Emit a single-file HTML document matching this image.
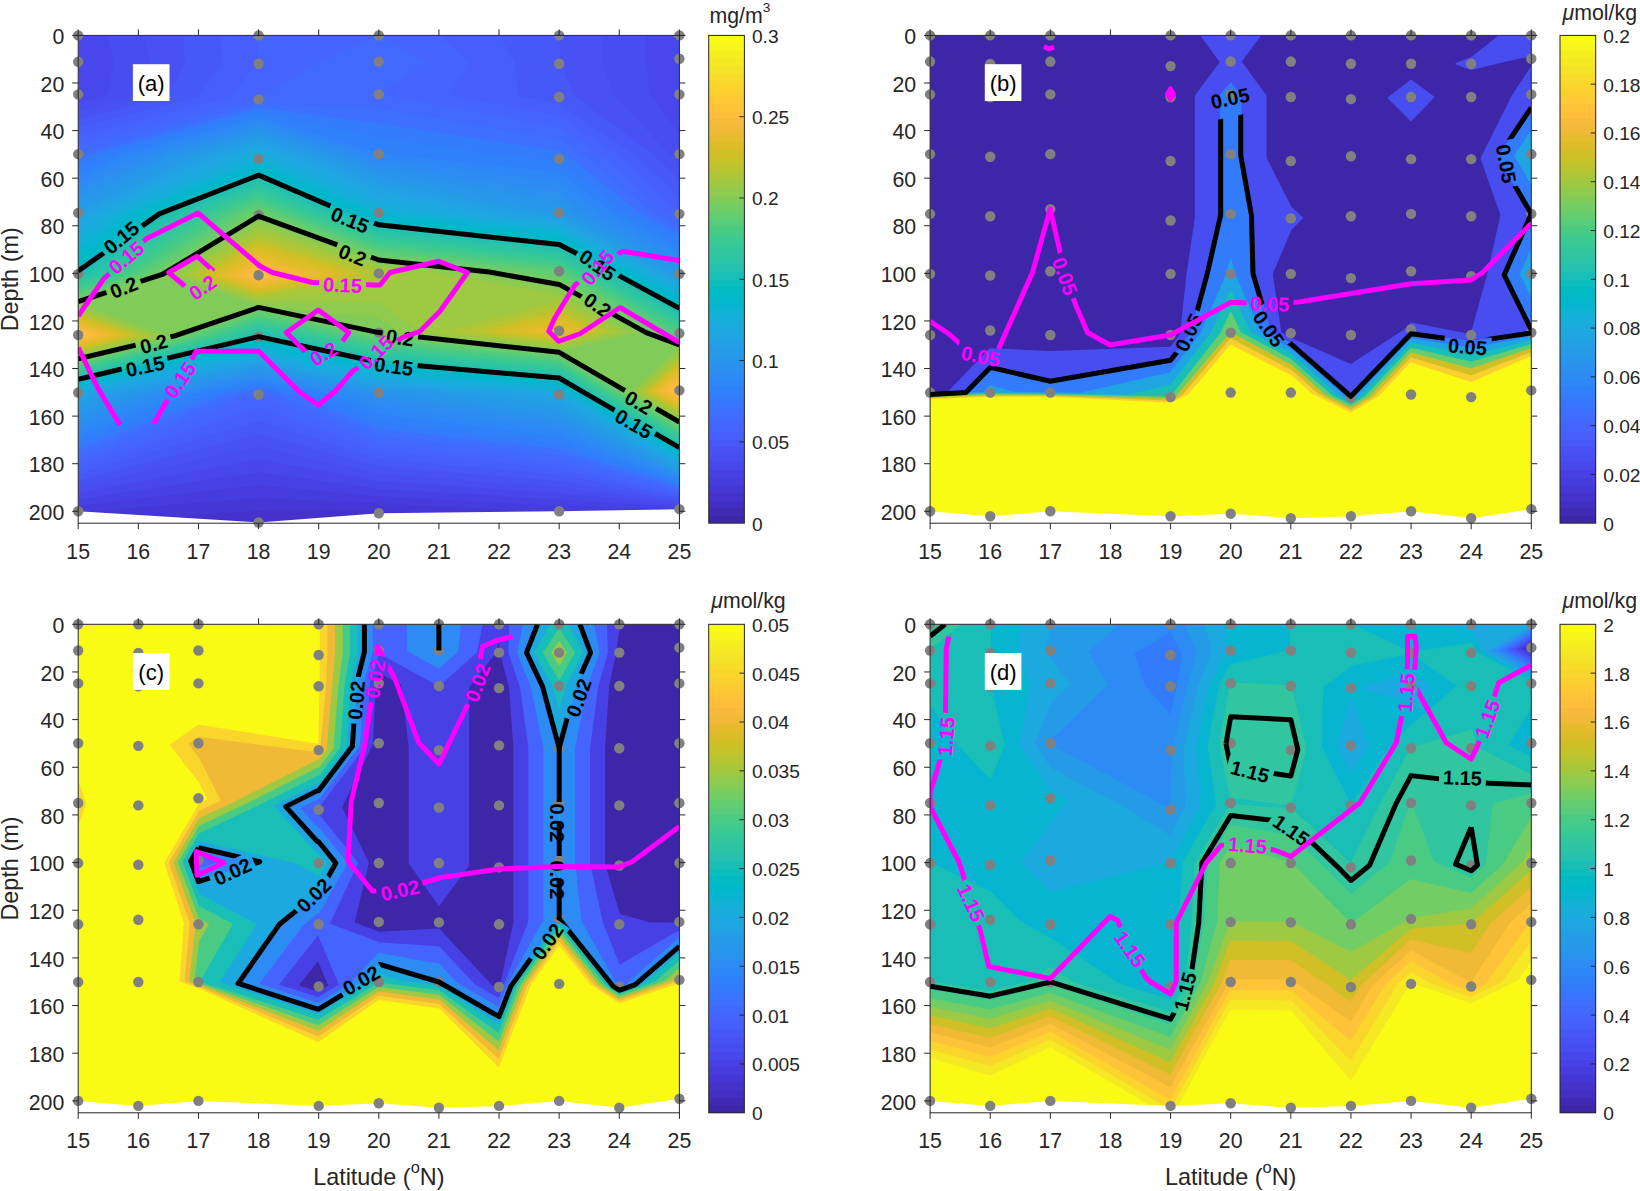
<!DOCTYPE html>
<html><head><meta charset="utf-8"><title>Figure</title><style>html,body{margin:0;padding:0;background:#fff}svg{display:block}</style></head><body>
<svg width="1640" height="1191" viewBox="0 0 1640 1191" font-family="'Liberation Sans', Arial, sans-serif">
<rect width="1640" height="1191" fill="#fff"/>
<g id="panel-a">
<clipPath id="clipa"><rect x="78.2" y="35.4" width="601.1999999999999" height="487.80000000000007"/></clipPath>
<g clip-path="url(#clipa)" shape-rendering="geometricPrecision">
<mask id="ola" maskUnits="userSpaceOnUse" x="0" y="0" width="1640" height="1191"><path d="M78.2 35.4L258.56 35.4L378.8 35.4L559.16 35.4L679.4 35.4L679.4 58.72L679.4 94.41L679.4 154.14L679.4 213.86L679.4 273.83L679.4 333.31L679.4 390.42L679.4 509.16L559.16 511.3L378.8 513.21L258.56 522.49L78.2 511.3L78.2 392.56L78.2 334.98L78.2 273.83L78.2 212.91L78.2 154.14L78.2 94.41L78.2 61.81Z" fill="#fff"/></mask>
<g mask="url(#ola)">
<path d="M78.2 35.4L258.56 35.4L378.8 35.4L559.16 35.4L679.4 35.4L679.4 58.72L679.4 94.41L679.4 154.14L679.4 213.86L679.4 273.83L679.4 333.31L679.4 390.42L679.4 509.16L559.16 511.3L378.8 513.21L258.56 522.49L78.2 511.3L78.2 392.56L78.2 334.98L78.2 273.83L78.2 212.91L78.2 154.14L78.2 94.41L78.2 61.81Z" fill="#3e26a8" stroke="#3e26a8" stroke-width="2"/>
<path d="M78.2 35.4L258.56 35.4L378.8 35.4L559.16 35.4L679.4 35.4L679.4 58.72L679.4 94.41L679.4 154.14L679.4 213.86L679.4 273.83L679.4 333.31L679.4 390.42L679.4 509.16L559.16 511.3L378.8 513.21L258.56 522.49L78.2 511.3L78.2 392.56L78.2 334.98L78.2 273.83L78.2 212.91L78.2 154.14L78.2 94.41L78.2 61.81Z" fill="#402ab4" stroke="#402ab4" stroke-width="1.6" stroke-linejoin="round" fill-rule="evenodd"/>
<path d="M78.2 35.4L258.56 35.4L378.8 35.4L559.16 35.4L679.4 35.4L679.4 58.72L679.4 94.41L679.4 154.14L679.4 213.86L679.4 273.83L679.4 333.31L679.4 390.42L679.4 509.16L559.16 511.3L378.8 513.21L258.56 522.49L78.2 511.3L78.2 392.56L78.2 334.98L78.2 273.83L78.2 212.91L78.2 154.14L78.2 94.41L78.2 61.81Z" fill="#422ec0" stroke="#422ec0" stroke-width="1.6" stroke-linejoin="round" fill-rule="evenodd"/>
<path d="M78.2 35.4L258.56 35.4L378.8 35.4L559.16 35.4L679.4 35.4L679.4 58.72L679.4 94.41L679.4 154.14L679.4 213.86L679.4 273.83L679.4 333.31L679.4 390.42L679.4 509.16L559.16 511.3L378.8 513.21L258.56 522.49L78.2 511.3L78.2 392.56L78.2 334.98L78.2 273.83L78.2 212.91L78.2 154.14L78.2 94.41L78.2 61.81Z" fill="#4432cb" stroke="#4432cb" stroke-width="1.6" stroke-linejoin="round" fill-rule="evenodd"/>
<path d="M78.2 35.4L258.56 35.4L378.8 35.4L559.16 35.4L679.4 35.4L679.4 58.72L679.4 94.41L679.4 154.14L679.4 213.86L679.4 273.83L679.4 333.31L679.4 390.42L679.4 509.16L559.16 511.3L430.33 512.66L378.8 510.23L258.56 509.68L168.38 516.89L78.2 511.3L78.2 392.56L78.2 334.98L78.2 273.83L78.2 212.91L78.2 154.14L78.2 94.41L78.2 61.81Z" fill="#4537d5" stroke="#4537d5" stroke-width="1.6" stroke-linejoin="round" fill-rule="evenodd"/>
<path d="M78.2 35.4L258.56 35.4L378.8 35.4L559.16 35.4L679.4 35.4L679.4 58.72L679.4 94.41L679.4 154.14L679.4 213.86L679.4 273.83L679.4 333.31L679.4 390.42L679.4 509.16L559.16 511.3L559.16 511.3L378.8 502.78L258.56 496.88L78.2 511.3L78.2 511.3L78.2 392.56L78.2 334.98L78.2 273.83L78.2 212.91L78.2 154.14L78.2 94.41L78.2 61.81Z" fill="#463cde" stroke="#463cde" stroke-width="1.6" stroke-linejoin="round" fill-rule="evenodd"/>
<path d="M78.2 35.4L258.56 35.4L378.8 35.4L559.16 35.4L679.4 35.4L679.4 58.72L679.4 94.41L679.4 154.14L679.4 213.86L679.4 273.83L679.4 333.31L679.4 390.42L679.4 508.65L559.16 505.02L378.8 495.33L258.56 484.08L78.2 504.92L78.2 392.56L78.2 334.98L78.2 273.83L78.2 212.91L78.2 154.14L78.2 94.41L78.2 61.81Z" fill="#4741e5" stroke="#4741e5" stroke-width="1.6" stroke-linejoin="round" fill-rule="evenodd"/>
<path d="M78.2 35.4L258.56 35.4L378.8 35.4L559.16 35.4L679.4 35.4L679.4 58.72L679.4 94.41L679.4 154.14L679.4 213.86L679.4 273.83L679.4 333.31L679.4 390.42L679.4 506.1L559.16 498.74L378.8 487.89L258.56 471.28L78.2 498.53L78.2 392.56L78.2 334.98L78.2 273.83L78.2 212.91L78.2 154.14L78.2 94.41L78.2 61.81Z" fill="#4747eb" stroke="#4747eb" stroke-width="1.6" stroke-linejoin="round" fill-rule="evenodd"/>
<path d="M108.26 35.4L258.56 35.4L378.8 35.4L559.16 35.4L645.05 35.4L645.05 60.15L649.34 95.07L679.4 134.23L679.4 154.14L679.4 213.86L679.4 273.83L679.4 333.31L679.4 390.42L679.4 503.56L559.16 492.46L378.8 480.44L258.56 458.48L78.2 492.15L78.2 392.56L78.2 334.98L78.2 273.83L78.2 212.91L78.2 154.14L78.2 102.94L108.26 95.24L114.27 62.19Z" fill="#484df0" stroke="#484df0" stroke-width="1.6" stroke-linejoin="round" fill-rule="evenodd"/>
<path d="M145.83 35.4L258.56 35.4L378.8 35.4L559.16 35.4L602.1 35.4L602.1 61.93L611.77 95.88L669.38 154.53L679.4 164.09L679.4 213.86L679.4 273.83L679.4 333.31L679.4 390.42L679.4 501.01L559.16 486.18L378.8 472.99L258.56 445.68L78.2 485.77L78.2 392.56L78.2 334.98L78.2 273.83L78.2 212.91L78.2 154.14L78.2 111.48L138.32 96.08L150.34 62.57Z" fill="#4852f4" stroke="#4852f4" stroke-width="1.6" stroke-linejoin="round" fill-rule="evenodd"/>
<path d="M183.41 35.4L258.56 35.4L378.8 35.4L559.16 35.4L559.16 35.4L559.16 63.72L574.19 96.7L652.68 155.2L679.4 180.68L679.4 213.86L679.4 273.83L679.4 333.31L679.4 390.42L679.4 498.46L559.16 479.9L378.8 465.55L258.56 432.87L78.2 479.38L78.2 392.56L78.2 334.98L78.2 273.83L78.2 212.91L78.2 154.14L78.2 120.01L168.38 96.91L186.42 62.95Z" fill="#4758f8" stroke="#4758f8" stroke-width="1.6" stroke-linejoin="round" fill-rule="evenodd"/>
<path d="M220.98 35.4L258.56 35.4L378.8 35.4L499.04 35.4L514.07 63.18L517.54 96.43L559.16 104.17L635.98 155.86L679.4 197.27L679.4 213.86L679.4 273.83L679.4 333.31L679.4 390.42L679.4 495.91L559.16 473.61L378.8 458.1L258.56 420.07L78.2 473L78.2 392.56L78.2 334.98L78.2 273.83L78.2 212.91L78.2 154.14L78.2 128.54L198.44 97.74L222.49 63.34Z" fill="#465efb" stroke="#465efb" stroke-width="1.6" stroke-linejoin="round" fill-rule="evenodd"/>
<path d="M258.56 35.4L258.56 35.4L378.8 35.4L438.92 35.4L468.98 62.65L448.17 95.42L559.16 116.07L619.28 156.52L679.4 213.86L679.4 213.86L679.4 273.83L679.4 333.31L679.4 390.42L679.4 493.36L559.16 467.33L378.8 450.65L258.56 407.27L78.2 466.62L78.2 392.56L78.2 334.98L78.2 273.83L78.2 212.91L78.2 154.14L78.2 137.07L228.5 98.58L258.56 63.72Z" fill="#4563fd" stroke="#4563fd" stroke-width="1.6" stroke-linejoin="round" fill-rule="evenodd"/>
<path d="M378.8 35.4L378.8 35.4L378.8 35.4L423.89 62.11L378.8 94.41L559.16 127.96L602.58 157.18L666.04 213.76L679.4 220.84L679.4 273.83L679.4 333.31L679.4 390.42L679.4 490.82L559.16 461.05L378.8 443.2L258.56 394.47L78.2 460.23L78.2 392.56L78.2 334.98L78.2 273.83L78.2 212.91L78.2 154.14L78.2 145.61L258.56 99.41L258.56 99.41L318.68 62.65Z" fill="#4269fe" stroke="#4269fe" stroke-width="1.6" stroke-linejoin="round" fill-rule="evenodd"/>
<path d="M378.8 61.57L378.8 61.57L378.8 61.57L378.8 61.57ZM78.2 154.14L78.2 154.14L258.56 103.98L378.8 109.34L559.16 139.86L585.88 157.84L652.68 213.65L679.4 227.81L679.4 273.83L679.4 333.31L679.4 390.42L679.4 488.27L559.16 454.77L378.8 435.76L276.24 394.19L258.56 391.07L241.54 394.29L78.2 453.85L78.2 392.56L78.2 334.98L78.2 273.83L78.2 212.91Z" fill="#3e6fff" stroke="#3e6fff" stroke-width="1.6" stroke-linejoin="round" fill-rule="evenodd"/>
<path d="M93.23 154.53L258.56 108.56L378.8 124.27L559.16 151.76L569.18 158.5L639.32 213.55L679.4 234.78L679.4 273.83L679.4 333.31L679.4 390.42L679.4 485.72L559.16 448.49L378.8 428.31L293.92 393.91L258.56 387.67L224.53 394.11L78.2 447.46L78.2 392.56L78.2 334.98L78.2 273.83L78.2 212.91L78.2 161.48Z" fill="#327cfc" stroke="#327cfc" stroke-width="1.6" stroke-linejoin="round" fill-rule="evenodd"/>
<path d="M108.26 154.93L258.56 113.14L378.8 139.21L507.63 157.54L559.16 162.9L625.96 213.44L679.4 241.75L679.4 273.83L679.4 333.31L679.4 390.42L679.4 483.17L559.16 442.21L378.8 420.86L311.61 393.63L258.56 384.26L207.51 393.93L78.2 441.08L78.2 392.56L78.2 334.98L78.2 273.83L78.2 212.91L78.2 168.83Z" fill="#2f81fa" stroke="#2f81fa" stroke-width="1.6" stroke-linejoin="round" fill-rule="evenodd"/>
<path d="M123.29 155.33L258.56 117.71L378.8 154.14L378.8 154.14L559.16 172.9L612.6 213.33L679.4 248.73L679.4 273.83L679.4 333.31L679.4 390.42L679.4 480.62L559.16 435.93L378.8 413.42L329.29 393.35L258.56 380.86L190.5 393.75L78.2 434.7L78.2 392.56L78.2 334.98L78.2 273.83L78.2 212.91L78.2 176.18Z" fill="#2e87f7" stroke="#2e87f7" stroke-width="1.6" stroke-linejoin="round" fill-rule="evenodd"/>
<path d="M138.32 155.72L258.56 122.29L365.44 154.67L378.8 160.26L559.16 182.9L599.24 213.23L679.4 255.7L679.4 273.83L679.4 333.31L679.4 390.42L679.4 478.08L559.16 429.64L378.8 405.97L346.97 393.07L258.56 377.46L173.48 393.57L78.2 428.31L78.2 392.56L78.2 334.98L78.2 273.83L78.2 212.91L78.2 183.52Z" fill="#2d8cf3" stroke="#2d8cf3" stroke-width="1.6" stroke-linejoin="round" fill-rule="evenodd"/>
<path d="M153.35 156.12L258.56 126.86L352.08 155.2L378.8 166.38L559.16 192.91L585.88 213.12L679.4 262.67L679.4 273.83L679.4 333.31L679.4 390.42L679.4 475.53L559.16 423.36L378.8 398.52L364.65 392.79L258.56 374.06L156.47 393.39L78.2 421.93L78.2 392.56L78.2 334.98L78.2 273.83L78.2 212.91L78.2 190.87Z" fill="#2b91ef" stroke="#2b91ef" stroke-width="1.6" stroke-linejoin="round" fill-rule="evenodd"/>
<path d="M168.38 156.52L258.56 131.44L338.72 155.72L378.8 172.5L559.16 202.91L572.52 213.02L679.4 269.64L679.4 273.83L679.4 333.31L679.4 390.42L679.4 472.98L559.16 417.08L388.29 392.66L378.8 391.97L258.56 370.66L139.45 393.21L78.2 415.55L78.2 392.56L78.2 334.98L78.2 273.83L78.2 212.91L78.2 198.22Z" fill="#2797eb" stroke="#2797eb" stroke-width="1.6" stroke-linejoin="round" fill-rule="evenodd"/>
<path d="M183.41 156.91L258.56 136.02L325.36 156.25L378.8 178.63L559.16 212.91L559.16 212.91L676.57 273.77L679.4 275.3L679.4 333.31L679.4 390.42L679.4 470.43L559.16 410.8L435.76 393.17L378.8 389L258.56 367.26L122.44 393.03L78.2 409.16L78.2 392.56L78.2 334.98L78.2 273.83L78.2 212.91L78.2 205.56Z" fill="#259be8" stroke="#259be8" stroke-width="1.6" stroke-linejoin="round" fill-rule="evenodd"/>
<path d="M198.44 157.31L258.56 140.59L312 156.78L378.8 184.75L526.95 212.91L559.16 216.42L669.5 273.61L679.4 278.97L679.4 333.31L679.4 390.42L679.4 467.88L559.16 404.52L483.22 393.67L378.8 386.03L258.56 363.86L105.42 392.85L78.2 402.78L78.2 392.56L78.2 334.98L78.2 273.83L78.2 212.91L78.2 212.91Z" fill="#23a0e5" stroke="#23a0e5" stroke-width="1.6" stroke-linejoin="round" fill-rule="evenodd"/>
<path d="M213.47 157.71L258.56 145.17L298.64 157.31L378.8 190.87L494.75 212.91L559.16 219.94L662.42 273.46L679.4 282.64L679.4 333.31L679.4 390.42L679.4 465.33L559.16 398.24L530.68 394.17L378.8 383.07L258.56 360.46L88.41 392.67L78.2 396.4L78.2 392.56L78.2 334.98L78.2 273.83L78.2 220.16L88.33 213.03Z" fill="#20a5e3" stroke="#20a5e3" stroke-width="1.6" stroke-linejoin="round" fill-rule="evenodd"/>
<path d="M228.5 158.1L258.56 149.74L285.28 157.84L378.8 196.99L462.54 212.91L559.16 223.45L655.35 273.3L679.4 286.31L679.4 333.31L679.4 390.42L679.4 462.79L560.83 394.41L559.16 393.44L378.8 380.1L258.56 357.05L78.2 391.74L78.2 334.98L78.2 273.83L78.2 227.42L98.47 213.15Z" fill="#1ca9df" stroke="#1ca9df" stroke-width="1.6" stroke-linejoin="round" fill-rule="evenodd"/>
<path d="M243.53 158.5L258.56 154.32L271.92 158.37L378.8 203.12L430.33 212.91L559.16 226.96L648.28 273.15L679.4 289.98L679.4 333.31L679.4 390.42L679.4 460.24L565 394.27L559.16 390.87L378.8 377.13L258.56 353.65L78.2 389.68L78.2 334.98L78.2 273.83L78.2 234.67L108.6 213.27Z" fill="#18addb" stroke="#18addb" stroke-width="1.6" stroke-linejoin="round" fill-rule="evenodd"/>
<path d="M258.56 158.9L258.56 158.9L258.56 158.9L378.8 209.24L398.12 212.91L559.16 230.47L641.21 273L679.4 293.66L679.4 333.31L679.4 390.42L679.4 457.69L569.18 394.13L559.16 388.3L378.8 374.16L258.56 350.25L78.2 387.61L78.2 334.98L78.2 273.83L78.2 241.92L118.73 213.39Z" fill="#12b1d6" stroke="#12b1d6" stroke-width="1.6" stroke-linejoin="round" fill-rule="evenodd"/>
<path d="M128.86 213.51L258.56 162.97L375.16 212.98L378.8 214.32L559.16 233.98L634.13 272.84L679.4 297.33L679.4 333.31L679.4 390.42L679.4 455.14L573.35 393.99L559.16 385.73L378.8 371.19L258.56 346.85L78.2 385.55L78.2 334.98L78.2 273.83L78.2 249.17Z" fill="#08b5d0" stroke="#08b5d0" stroke-width="1.6" stroke-linejoin="round" fill-rule="evenodd"/>
<path d="M139 213.63L258.56 167.04L366.05 213.14L378.8 217.83L559.16 237.5L627.06 272.69L679.4 301L679.4 333.31L679.4 390.42L679.4 452.59L577.53 393.85L559.16 383.15L378.8 368.22L258.56 343.45L78.2 383.48L78.2 334.98L78.2 273.83L78.2 256.42Z" fill="#01b8ca" stroke="#01b8ca" stroke-width="1.6" stroke-linejoin="round" fill-rule="evenodd"/>
<path d="M149.13 213.75L258.56 171.1L356.94 213.3L378.8 221.35L559.16 241.01L619.99 272.53L679.4 304.67L679.4 333.31L679.4 390.42L679.4 450.05L581.7 393.71L559.16 380.58L378.8 365.25L258.56 340.05L78.2 381.42L78.2 334.98L78.2 273.83L78.2 263.67Z" fill="#02bac3" stroke="#02bac3" stroke-width="1.6" stroke-linejoin="round" fill-rule="evenodd"/>
<path d="M159.26 213.87L258.56 175.17L347.83 213.46L378.8 224.86L559.16 244.52L612.91 272.38L679.4 308.34L679.4 333.31L679.4 390.42L679.4 447.5L585.88 393.57L559.16 378.01L378.8 362.29L258.56 336.65L78.2 379.36L78.2 334.98L78.2 273.83L78.2 270.93Z" fill="#19bfb6" stroke="#19bfb6" stroke-width="1.6" stroke-linejoin="round" fill-rule="evenodd"/>
<path d="M169.39 213.99L258.56 179.24L338.72 213.63L378.8 228.37L559.16 248.03L605.84 272.23L679.4 312.02L679.4 333.31L679.4 390.42L679.4 444.95L590.05 393.43L559.16 375.44L378.8 359.32L270.58 336.24L258.56 333.72L250.17 336.57L78.2 377.29L78.2 334.98L78.2 275.57L83.45 273.87Z" fill="#24c1ae" stroke="#24c1ae" stroke-width="1.6" stroke-linejoin="round" fill-rule="evenodd"/>
<path d="M179.53 214.11L258.56 183.31L329.61 213.79L378.8 231.89L559.16 251.54L598.77 272.07L679.4 315.69L679.4 333.31L679.4 390.42L679.4 442.4L594.23 393.29L559.16 372.87L378.8 356.35L282.61 335.84L258.56 330.8L241.78 336.49L78.2 375.23L78.2 334.98L78.2 278.46L92.21 273.94Z" fill="#2cc4a7" stroke="#2cc4a7" stroke-width="1.6" stroke-linejoin="round" fill-rule="evenodd"/>
<path d="M189.66 214.24L258.56 187.38L320.5 213.95L378.8 235.4L559.16 255.05L591.7 271.92L679.4 319.36L679.4 333.31L679.4 390.42L679.4 439.85L598.4 393.15L559.16 370.3L378.8 353.38L294.63 335.43L258.56 327.88L233.39 336.41L78.2 373.16L78.2 334.98L78.2 281.36L100.96 274.01Z" fill="#31c69f" stroke="#31c69f" stroke-width="1.6" stroke-linejoin="round" fill-rule="evenodd"/>
<path d="M199.79 214.36L258.56 191.45L311.39 214.11L378.8 238.91L559.16 258.57L584.62 271.76L679.4 323.03L679.4 333.31L679.4 390.42L679.4 437.31L602.58 393.01L559.16 367.73L378.8 350.41L306.66 335.03L258.56 324.95L225 336.34L78.2 371.1L78.2 334.98L78.2 284.26L109.72 274.08Z" fill="#37c897" stroke="#37c897" stroke-width="1.6" stroke-linejoin="round" fill-rule="evenodd"/>
<path d="M209.92 214.48L258.56 195.52L302.28 214.27L378.8 242.43L559.16 262.08L577.55 271.61L679.4 326.71L679.4 333.31L679.4 390.42L679.4 434.76L606.75 392.87L559.16 365.15L378.8 347.44L318.68 334.62L258.56 322.03L216.62 336.26L78.2 369.04L78.2 334.98L78.2 287.16L118.47 274.15Z" fill="#3fca8e" stroke="#3fca8e" stroke-width="1.6" stroke-linejoin="round" fill-rule="evenodd"/>
<path d="M220.06 214.6L258.56 199.59L293.17 214.44L378.8 245.94L559.16 265.59L570.48 271.46L679.4 330.38L679.4 333.31L679.4 390.42L679.4 432.21L610.93 392.73L559.16 362.58L378.8 344.48L330.7 334.22L258.56 319.11L208.23 336.18L78.2 366.97L78.2 334.98L78.2 290.06L127.23 274.22Z" fill="#4acb84" stroke="#4acb84" stroke-width="1.6" stroke-linejoin="round" fill-rule="evenodd"/>
<path d="M230.19 214.72L258.56 203.66L284.07 214.6L378.8 249.46L559.16 269.1L563.4 271.3L677.33 333.27L679.4 334.05L679.4 390.42L679.4 429.66L615.1 392.59L559.16 360.01L378.8 341.51L342.73 333.81L258.56 316.18L199.84 336.1L78.2 364.91L78.2 334.98L78.2 292.96L135.99 274.28Z" fill="#57cc7a" stroke="#57cc7a" stroke-width="1.6" stroke-linejoin="round" fill-rule="evenodd"/>
<path d="M240.32 214.84L258.56 207.73L274.96 214.76L378.8 252.97L547.52 271.35L559.16 273.41L666.96 333.04L679.4 337.71L679.4 390.42L679.4 427.11L619.28 392.45L559.16 357.44L378.8 338.54L354.75 333.41L258.56 313.26L191.45 336.03L78.2 362.84L78.2 334.98L78.2 295.85L144.74 274.35Z" fill="#64cd6f" stroke="#64cd6f" stroke-width="1.6" stroke-linejoin="round" fill-rule="evenodd"/>
<path d="M250.45 214.96L258.56 211.8L265.85 214.92L378.8 256.48L518.43 271.69L559.16 278.92L656.6 332.82L679.4 341.37L679.4 390.42L679.4 424.57L623.45 392.31L559.16 354.87L378.8 335.57L366.78 333.01L258.56 310.34L183.06 335.95L78.2 360.78L78.2 334.98L78.2 298.75L153.5 274.42Z" fill="#72cd64" stroke="#72cd64" stroke-width="1.6" stroke-linejoin="round" fill-rule="evenodd"/>
<path d="M162.25 274.49L258.56 216.13L378.8 260L489.34 272.04L559.16 284.43L646.23 332.59L679.4 345.03L679.4 390.42L679.4 422.02L627.63 392.16L559.16 352.3L378.8 332.6L378.8 332.6L258.56 307.41L174.67 335.87L78.2 358.72L78.2 334.98L78.2 301.65Z" fill="#81cc59" stroke="#81cc59" stroke-width="1.6" stroke-linejoin="round" fill-rule="evenodd"/>
<path d="M171.01 274.56L258.56 221.5L378.8 263.51L460.25 272.38L559.16 289.94L635.86 332.37L559.16 349.73L400.27 332.37L378.8 317.01L258.56 304.49ZM78.2 334.98L78.2 304.55L166.28 335.79L78.2 356.65ZM631.8 392.02L679.4 348.69L679.4 390.42L679.4 419.47Z" fill="#8fcb4e" stroke="#8fcb4e" stroke-width="1.6" stroke-linejoin="round" fill-rule="evenodd"/>
<path d="M179.76 274.63L258.56 226.88L378.8 267.03L431.16 272.73L559.16 295.45L625.5 332.14L559.16 347.15L421.74 332.15L378.8 301.42L258.56 301.57ZM78.2 334.98L78.2 307.45L157.89 335.72L78.2 354.59ZM635.98 391.88L679.4 352.35L679.4 390.42L679.4 416.92Z" fill="#9dc943" stroke="#9dc943" stroke-width="1.6" stroke-linejoin="round" fill-rule="evenodd"/>
<path d="M188.52 274.7L258.56 232.25L378.8 270.54L402.07 273.07L378.8 285.82L258.56 298.64ZM78.2 334.98L78.2 310.35L149.51 335.64L78.2 352.52ZM443.21 331.92L559.16 300.95L615.13 331.92L559.16 344.58ZM640.15 391.74L679.4 356.01L679.4 390.42L679.4 414.37Z" fill="#abc739" stroke="#abc739" stroke-width="1.6" stroke-linejoin="round" fill-rule="evenodd"/>
<path d="M197.27 274.77L258.56 237.63L375.46 273.4L258.56 295.72ZM78.2 334.98L78.2 313.24L141.12 335.56L78.2 350.46ZM464.69 331.69L559.16 306.46L604.77 331.69L559.16 342.01ZM644.33 391.6L679.4 359.67L679.4 390.42L679.4 411.83Z" fill="#b9c431" stroke="#b9c431" stroke-width="1.6" stroke-linejoin="round" fill-rule="evenodd"/>
<path d="M206.03 274.84L258.56 243L358.76 273.67L258.56 292.8ZM78.2 334.98L78.2 316.14L132.73 335.48L78.2 348.4ZM486.16 331.47L559.16 311.97L594.4 331.46L559.16 339.44ZM648.5 391.46L679.4 363.33L679.4 390.42L679.4 409.28Z" fill="#d1bf27" stroke="#d1bf27" stroke-width="1.6" stroke-linejoin="round" fill-rule="evenodd"/>
<path d="M214.78 274.91L258.56 248.38L342.06 273.93L258.56 289.87ZM78.2 334.98L78.2 319.04L124.34 335.41L78.2 346.33ZM507.63 331.24L559.16 317.48L584.04 331.24L559.16 336.87ZM652.68 391.32L679.4 366.99L679.4 390.42L679.4 406.73Z" fill="#dcbd29" stroke="#dcbd29" stroke-width="1.6" stroke-linejoin="round" fill-rule="evenodd"/>
<path d="M223.54 274.98L258.56 253.75L325.36 274.2L258.56 286.95ZM78.2 334.98L78.2 321.94L115.95 335.33L78.2 344.27ZM529.1 331.01L559.16 322.99L573.67 331.01L559.16 334.3ZM656.85 391.18L679.4 370.65L679.4 390.42L679.4 404.18Z" fill="#e6bb2d" stroke="#e6bb2d" stroke-width="1.6" stroke-linejoin="round" fill-rule="evenodd"/>
<path d="M232.29 275.05L258.56 259.13L308.66 274.46L258.56 284.03ZM78.2 334.98L78.2 324.84L107.56 335.25L78.2 342.2ZM550.57 330.79L559.16 328.49L563.31 330.79L559.16 331.73ZM661.03 391.04L679.4 374.32L679.4 390.42L679.4 401.63Z" fill="#f0ba36" stroke="#f0ba36" stroke-width="1.6" stroke-linejoin="round" fill-rule="evenodd"/>
<path d="M241.05 275.12L258.56 264.5L291.96 274.73L258.56 281.1ZM78.2 334.98L78.2 327.73L99.17 335.17L78.2 340.14ZM665.2 390.9L679.4 377.98L679.4 390.42L679.4 399.09Z" fill="#f8ba3d" stroke="#f8ba3d" stroke-width="1.6" stroke-linejoin="round" fill-rule="evenodd"/>
<path d="M249.8 275.19L258.56 269.88L275.26 274.99L258.56 278.18ZM78.2 334.98L78.2 330.63L90.78 335.1L78.2 338.08ZM669.38 390.76L679.4 381.64L679.4 390.42L679.4 396.54Z" fill="#febe3c" stroke="#febe3c" stroke-width="1.6" stroke-linejoin="round" fill-rule="evenodd"/>
<path d="M258.56 275.25L258.56 275.25L258.56 275.25L258.56 275.25ZM78.2 334.98L78.2 333.53L82.39 335.02L78.2 336.01ZM673.55 390.62L679.4 385.3L679.4 390.42L679.4 393.99Z" fill="#fec338" stroke="#fec338" stroke-width="1.6" stroke-linejoin="round" fill-rule="evenodd"/>
<path d="M677.73 390.48L679.4 388.96L679.4 390.42L679.4 391.44Z" fill="#fec934" stroke="#fec934" stroke-width="1.6" stroke-linejoin="round" fill-rule="evenodd"/>
</g></g>
<g fill="#808080"><circle cx="78.2" cy="35.4" r="5.2"/><circle cx="78.2" cy="61.81" r="5.2"/><circle cx="78.2" cy="94.41" r="5.2"/><circle cx="78.2" cy="154.14" r="5.2"/><circle cx="78.2" cy="212.91" r="5.2"/><circle cx="78.2" cy="273.83" r="5.2"/><circle cx="78.2" cy="334.98" r="5.2"/><circle cx="78.2" cy="392.56" r="5.2"/><circle cx="78.2" cy="511.3" r="5.2"/><circle cx="258.56" cy="35.4" r="5.2"/><circle cx="258.56" cy="63.72" r="5.2"/><circle cx="258.56" cy="99.41" r="5.2"/><circle cx="258.56" cy="158.9" r="5.2"/><circle cx="258.56" cy="215.05" r="5.2"/><circle cx="258.56" cy="275.25" r="5.2"/><circle cx="258.56" cy="336.65" r="5.2"/><circle cx="258.56" cy="394.47" r="5.2"/><circle cx="258.56" cy="522.49" r="5.2"/><circle cx="378.8" cy="35.4" r="5.2"/><circle cx="378.8" cy="61.57" r="5.2"/><circle cx="378.8" cy="94.41" r="5.2"/><circle cx="378.8" cy="154.14" r="5.2"/><circle cx="378.8" cy="212.91" r="5.2"/><circle cx="378.8" cy="273.35" r="5.2"/><circle cx="378.8" cy="332.6" r="5.2"/><circle cx="378.8" cy="392.56" r="5.2"/><circle cx="378.8" cy="513.21" r="5.2"/><circle cx="559.16" cy="35.4" r="5.2"/><circle cx="559.16" cy="63.72" r="5.2"/><circle cx="559.16" cy="97.03" r="5.2"/><circle cx="559.16" cy="158.9" r="5.2"/><circle cx="559.16" cy="212.91" r="5.2"/><circle cx="559.16" cy="271.21" r="5.2"/><circle cx="559.16" cy="330.7" r="5.2"/><circle cx="559.16" cy="394.47" r="5.2"/><circle cx="559.16" cy="511.3" r="5.2"/><circle cx="679.4" cy="35.4" r="5.2"/><circle cx="679.4" cy="58.72" r="5.2"/><circle cx="679.4" cy="94.41" r="5.2"/><circle cx="679.4" cy="154.14" r="5.2"/><circle cx="679.4" cy="213.86" r="5.2"/><circle cx="679.4" cy="273.83" r="5.2"/><circle cx="679.4" cy="333.31" r="5.2"/><circle cx="679.4" cy="390.42" r="5.2"/><circle cx="679.4" cy="509.16" r="5.2"/></g>
<mask id="mka" maskUnits="userSpaceOnUse" x="0" y="0" width="1640" height="1191"><rect width="1640" height="1191" fill="#fff"/><rect x="-23.46" y="-11" width="46.92" height="22" fill="#000" transform="translate(121.25 237.5) rotate(-40)"/><rect x="-17.9" y="-11" width="35.8" height="22" fill="#000" transform="translate(123.75 287.5) rotate(-22)"/><rect x="-23.46" y="-11" width="46.92" height="22" fill="#000" transform="translate(350 220) rotate(22)"/><rect x="-17.9" y="-11" width="35.8" height="22" fill="#000" transform="translate(352.5 255) rotate(22)"/><rect x="-23.46" y="-11" width="46.92" height="22" fill="#000" transform="translate(597.5 265) rotate(35)"/><rect x="-17.9" y="-11" width="35.8" height="22" fill="#000" transform="translate(597.5 305) rotate(35)"/><rect x="-17.9" y="-11" width="35.8" height="22" fill="#000" transform="translate(400 337.5) rotate(8)"/><rect x="-23.46" y="-11" width="46.92" height="22" fill="#000" transform="translate(393.75 366.25) rotate(8)"/><rect x="-17.9" y="-11" width="35.8" height="22" fill="#000" transform="translate(638.75 402.5) rotate(30)"/><rect x="-23.46" y="-11" width="46.92" height="22" fill="#000" transform="translate(633.75 423.75) rotate(30)"/><rect x="-17.9" y="-11" width="35.8" height="22" fill="#000" transform="translate(153.75 343.75) rotate(-15)"/><rect x="-23.46" y="-11" width="46.92" height="22" fill="#000" transform="translate(145 366.25) rotate(-12)"/></mask>
<g clip-path="url(#clipa)"><g mask="url(#mka)" fill="none" stroke="#000" stroke-width="5.0" stroke-linejoin="round" stroke-linecap="butt">
<path d="M78.2 270.93L159.26 213.87L258.56 175.17L347.83 213.46L378.8 224.86L559.16 244.52L612.91 272.38L679.4 308.34"/>
<path d="M679.4 447.5L585.88 393.57L559.16 378.01L378.8 362.29L258.56 336.65L258.56 336.65L258.56 336.65L78.2 379.36"/>
<path d="M78.2 301.65L162.25 274.49L258.56 216.13L378.8 260L489.34 272.04L559.16 284.43L646.23 332.59L679.4 345.03"/>
<path d="M679.4 422.02L627.63 392.16L559.16 352.3L378.8 332.6L378.8 332.6L258.56 307.41L174.67 335.87L78.2 358.72"/>
</g></g>
<text transform="translate(121.25 237.5) rotate(-40)" y="7.16" text-anchor="middle" font-size="20" font-weight="bold" fill="#000">0.15</text><text transform="translate(123.75 287.5) rotate(-22)" y="7.16" text-anchor="middle" font-size="20" font-weight="bold" fill="#000">0.2</text><text transform="translate(350 220) rotate(22)" y="7.16" text-anchor="middle" font-size="20" font-weight="bold" fill="#000">0.15</text><text transform="translate(352.5 255) rotate(22)" y="7.16" text-anchor="middle" font-size="20" font-weight="bold" fill="#000">0.2</text><text transform="translate(597.5 265) rotate(35)" y="7.16" text-anchor="middle" font-size="20" font-weight="bold" fill="#000">0.15</text><text transform="translate(597.5 305) rotate(35)" y="7.16" text-anchor="middle" font-size="20" font-weight="bold" fill="#000">0.2</text><text transform="translate(400 337.5) rotate(8)" y="7.16" text-anchor="middle" font-size="20" font-weight="bold" fill="#000">0.2</text><text transform="translate(393.75 366.25) rotate(8)" y="7.16" text-anchor="middle" font-size="20" font-weight="bold" fill="#000">0.15</text><text transform="translate(638.75 402.5) rotate(30)" y="7.16" text-anchor="middle" font-size="20" font-weight="bold" fill="#000">0.2</text><text transform="translate(633.75 423.75) rotate(30)" y="7.16" text-anchor="middle" font-size="20" font-weight="bold" fill="#000">0.15</text><text transform="translate(153.75 343.75) rotate(-15)" y="7.16" text-anchor="middle" font-size="20" font-weight="bold" fill="#000">0.2</text><text transform="translate(145 366.25) rotate(-12)" y="7.16" text-anchor="middle" font-size="20" font-weight="bold" fill="#000">0.15</text>
<mask id="mma" maskUnits="userSpaceOnUse" x="0" y="0" width="1640" height="1191"><rect width="1640" height="1191" fill="#fff"/><rect x="-23.46" y="-11" width="46.92" height="22" fill="#000" transform="translate(126.25 257.5) rotate(-40)"/><rect x="-23.46" y="-11" width="46.92" height="22" fill="#000" transform="translate(342.5 285) rotate(3)"/><rect x="-23.46" y="-11" width="46.92" height="22" fill="#000" transform="translate(376 352.5) rotate(-45)"/><rect x="-23.46" y="-11" width="46.92" height="22" fill="#000" transform="translate(180 380) rotate(-55)"/><rect x="-17.9" y="-11" width="35.8" height="22" fill="#000" transform="translate(202.5 287.5) rotate(-35)"/><rect x="-17.9" y="-11" width="35.8" height="22" fill="#000" transform="translate(323.75 353.75) rotate(-30)"/><rect x="-23.46" y="-11" width="46.92" height="22" fill="#000" transform="translate(597.5 267.5) rotate(-50)"/></mask>
<g clip-path="url(#clipa)"><g mask="url(#mma)" fill="none" stroke="#ff00ff" stroke-width="5.0" stroke-linejoin="round" stroke-linecap="butt">
<path d="M78.2 316L103.75 278.75L146.25 238.75L198 213L260 266.25L272.5 272.5L312.5 282.5L373.75 285L380 285L390 272.5L438.75 261.25L467.5 272.5L440 311.25L420 331.25L402.5 337.5L352.5 371.25L335 391.25L318.25 405L300 392.5L258.75 351.25L196.25 351.25L163.75 406.25L153.75 423.75"/>
<path d="M78.25 347.5L97.5 387.5L120 425"/>
<path d="M185 286.25L168.75 272.5L197 256.25L213.75 271.25"/>
<path d="M306.25 352.5L286.25 332.5L318.25 310L348.75 332.5L342.5 341.25"/>
<path d="M679.5 260.5L622.5 251.25L597.5 267.5L575 285L555 317.5L548.75 331.25L558.75 341.25L580 333.75L620 307.5L679.5 342.5"/>
</g></g>
<text transform="translate(126.25 257.5) rotate(-40)" y="7.16" text-anchor="middle" font-size="20" font-weight="bold" fill="#ff00ff">0.15</text><text transform="translate(342.5 285) rotate(3)" y="7.16" text-anchor="middle" font-size="20" font-weight="bold" fill="#ff00ff">0.15</text><text transform="translate(376 352.5) rotate(-45)" y="7.16" text-anchor="middle" font-size="20" font-weight="bold" fill="#ff00ff">0.15</text><text transform="translate(180 380) rotate(-55)" y="7.16" text-anchor="middle" font-size="20" font-weight="bold" fill="#ff00ff">0.15</text><text transform="translate(202.5 287.5) rotate(-35)" y="7.16" text-anchor="middle" font-size="20" font-weight="bold" fill="#ff00ff">0.2</text><text transform="translate(323.75 353.75) rotate(-30)" y="7.16" text-anchor="middle" font-size="20" font-weight="bold" fill="#ff00ff">0.2</text><text transform="translate(597.5 267.5) rotate(-50)" y="7.16" text-anchor="middle" font-size="20" font-weight="bold" fill="#ff00ff">0.15</text>
<rect x="132.9" y="64.2" width="36.6" height="36.8" fill="#fff"/>
<text x="151.2" y="91.3" text-anchor="middle" font-size="22" fill="#000">(a)</text>
<g stroke="#262626" stroke-width="1" fill="none"><rect x="78.2" y="35.4" width="601.2" height="487.8" fill="none"/><path d="M78.2 523.2v6M78.2 35.4v-6"/><path d="M138.32 523.2v6M138.32 35.4v-6"/><path d="M198.44 523.2v6M198.44 35.4v-6"/><path d="M258.56 523.2v6M258.56 35.4v-6"/><path d="M318.68 523.2v6M318.68 35.4v-6"/><path d="M378.8 523.2v6M378.8 35.4v-6"/><path d="M438.92 523.2v6M438.92 35.4v-6"/><path d="M499.04 523.2v6M499.04 35.4v-6"/><path d="M559.16 523.2v6M559.16 35.4v-6"/><path d="M619.28 523.2v6M619.28 35.4v-6"/><path d="M679.4 523.2v6M679.4 35.4v-6"/><path d="M78.2 35.4h-6M679.4 35.4h6"/><path d="M78.2 82.99h-6M679.4 82.99h6"/><path d="M78.2 130.58h-6M679.4 130.58h6"/><path d="M78.2 178.17h-6M679.4 178.17h6"/><path d="M78.2 225.76h-6M679.4 225.76h6"/><path d="M78.2 273.35h-6M679.4 273.35h6"/><path d="M78.2 320.94h-6M679.4 320.94h6"/><path d="M78.2 368.53h-6M679.4 368.53h6"/><path d="M78.2 416.12h-6M679.4 416.12h6"/><path d="M78.2 463.71h-6M679.4 463.71h6"/><path d="M78.2 511.3h-6M679.4 511.3h6"/></g>
<g font-size="21.3" fill="#262626"><text x="78.2" y="558.5" text-anchor="middle">15</text><text x="138.32" y="558.5" text-anchor="middle">16</text><text x="198.44" y="558.5" text-anchor="middle">17</text><text x="258.56" y="558.5" text-anchor="middle">18</text><text x="318.68" y="558.5" text-anchor="middle">19</text><text x="378.8" y="558.5" text-anchor="middle">20</text><text x="438.92" y="558.5" text-anchor="middle">21</text><text x="499.04" y="558.5" text-anchor="middle">22</text><text x="559.16" y="558.5" text-anchor="middle">23</text><text x="619.28" y="558.5" text-anchor="middle">24</text><text x="679.4" y="558.5" text-anchor="middle">25</text><text x="64.3" y="44.1" text-anchor="end">0</text><text x="64.3" y="91.69" text-anchor="end">20</text><text x="64.3" y="139.28" text-anchor="end">40</text><text x="64.3" y="186.87" text-anchor="end">60</text><text x="64.3" y="234.46" text-anchor="end">80</text><text x="64.3" y="282.05" text-anchor="end">100</text><text x="64.3" y="329.64" text-anchor="end">120</text><text x="64.3" y="377.23" text-anchor="end">140</text><text x="64.3" y="424.82" text-anchor="end">160</text><text x="64.3" y="472.41" text-anchor="end">180</text><text x="64.3" y="520" text-anchor="end">200</text></g>
<text transform="translate(17.6 279.3) rotate(-90)" text-anchor="middle" font-size="23.4" fill="#262626">Depth (m)</text>
<g shape-rendering="crispEdges"><rect x="708.7" y="515.38" width="35.7" height="8.02" fill="#3e26a8"/><rect x="708.7" y="507.76" width="35.7" height="8.02" fill="#402ab4"/><rect x="708.7" y="500.13" width="35.7" height="8.02" fill="#422ec0"/><rect x="708.7" y="492.51" width="35.7" height="8.02" fill="#4432cb"/><rect x="708.7" y="484.89" width="35.7" height="8.02" fill="#4537d5"/><rect x="708.7" y="477.27" width="35.7" height="8.02" fill="#463cde"/><rect x="708.7" y="469.65" width="35.7" height="8.02" fill="#4741e5"/><rect x="708.7" y="462.03" width="35.7" height="8.02" fill="#4747eb"/><rect x="708.7" y="454.4" width="35.7" height="8.02" fill="#484df0"/><rect x="708.7" y="446.78" width="35.7" height="8.02" fill="#4852f4"/><rect x="708.7" y="439.16" width="35.7" height="8.02" fill="#4758f8"/><rect x="708.7" y="431.54" width="35.7" height="8.02" fill="#465efb"/><rect x="708.7" y="423.92" width="35.7" height="8.02" fill="#4563fd"/><rect x="708.7" y="416.29" width="35.7" height="8.02" fill="#4269fe"/><rect x="708.7" y="408.67" width="35.7" height="8.02" fill="#3e6fff"/><rect x="708.7" y="401.05" width="35.7" height="8.02" fill="#3875fe"/><rect x="708.7" y="393.43" width="35.7" height="8.02" fill="#327cfc"/><rect x="708.7" y="385.81" width="35.7" height="8.02" fill="#2f81fa"/><rect x="708.7" y="378.18" width="35.7" height="8.02" fill="#2e87f7"/><rect x="708.7" y="370.56" width="35.7" height="8.02" fill="#2d8cf3"/><rect x="708.7" y="362.94" width="35.7" height="8.02" fill="#2b91ef"/><rect x="708.7" y="355.32" width="35.7" height="8.02" fill="#2797eb"/><rect x="708.7" y="347.7" width="35.7" height="8.02" fill="#259be8"/><rect x="708.7" y="340.08" width="35.7" height="8.02" fill="#23a0e5"/><rect x="708.7" y="332.45" width="35.7" height="8.02" fill="#20a5e3"/><rect x="708.7" y="324.83" width="35.7" height="8.02" fill="#1ca9df"/><rect x="708.7" y="317.21" width="35.7" height="8.02" fill="#18addb"/><rect x="708.7" y="309.59" width="35.7" height="8.02" fill="#12b1d6"/><rect x="708.7" y="301.97" width="35.7" height="8.02" fill="#08b5d0"/><rect x="708.7" y="294.34" width="35.7" height="8.02" fill="#01b8ca"/><rect x="708.7" y="286.72" width="35.7" height="8.02" fill="#02bac3"/><rect x="708.7" y="279.1" width="35.7" height="8.02" fill="#0bbdbd"/><rect x="708.7" y="271.48" width="35.7" height="8.02" fill="#19bfb6"/><rect x="708.7" y="263.86" width="35.7" height="8.02" fill="#24c1ae"/><rect x="708.7" y="256.23" width="35.7" height="8.02" fill="#2cc4a7"/><rect x="708.7" y="248.61" width="35.7" height="8.02" fill="#31c69f"/><rect x="708.7" y="240.99" width="35.7" height="8.02" fill="#37c897"/><rect x="708.7" y="233.37" width="35.7" height="8.02" fill="#3fca8e"/><rect x="708.7" y="225.75" width="35.7" height="8.02" fill="#4acb84"/><rect x="708.7" y="218.12" width="35.7" height="8.02" fill="#57cc7a"/><rect x="708.7" y="210.5" width="35.7" height="8.02" fill="#64cd6f"/><rect x="708.7" y="202.88" width="35.7" height="8.02" fill="#72cd64"/><rect x="708.7" y="195.26" width="35.7" height="8.02" fill="#81cc59"/><rect x="708.7" y="187.64" width="35.7" height="8.02" fill="#8fcb4e"/><rect x="708.7" y="180.02" width="35.7" height="8.02" fill="#9dc943"/><rect x="708.7" y="172.39" width="35.7" height="8.02" fill="#abc739"/><rect x="708.7" y="164.77" width="35.7" height="8.02" fill="#b9c431"/><rect x="708.7" y="157.15" width="35.7" height="8.02" fill="#c5c22a"/><rect x="708.7" y="149.53" width="35.7" height="8.02" fill="#d1bf27"/><rect x="708.7" y="141.91" width="35.7" height="8.02" fill="#dcbd29"/><rect x="708.7" y="134.28" width="35.7" height="8.02" fill="#e6bb2d"/><rect x="708.7" y="126.66" width="35.7" height="8.02" fill="#f0ba36"/><rect x="708.7" y="119.04" width="35.7" height="8.02" fill="#f8ba3d"/><rect x="708.7" y="111.42" width="35.7" height="8.02" fill="#febe3c"/><rect x="708.7" y="103.8" width="35.7" height="8.02" fill="#fec338"/><rect x="708.7" y="96.17" width="35.7" height="8.02" fill="#fec934"/><rect x="708.7" y="88.55" width="35.7" height="8.02" fill="#fccf30"/><rect x="708.7" y="80.93" width="35.7" height="8.02" fill="#fad62d"/><rect x="708.7" y="73.31" width="35.7" height="8.02" fill="#f7dc2a"/><rect x="708.7" y="65.69" width="35.7" height="8.02" fill="#f5e327"/><rect x="708.7" y="58.07" width="35.7" height="8.02" fill="#f5e924"/><rect x="708.7" y="50.44" width="35.7" height="8.02" fill="#f6ef20"/><rect x="708.7" y="42.82" width="35.7" height="8.02" fill="#f7f51b"/><rect x="708.7" y="35.2" width="35.7" height="8.02" fill="#f9fb15"/></g>
<g stroke="#262626" stroke-width="1" fill="none"><rect x="708.7" y="35.4" width="35.7" height="487.8" fill="none"/><path d="M744.4 441.9h-5"/><path d="M744.4 360.6h-5"/><path d="M744.4 279.3h-5"/><path d="M744.4 198h-5"/><path d="M744.4 116.7h-5"/></g>
<g font-size="19.2" fill="#262626"><text x="751.9" y="530.6">0</text><text x="751.9" y="449.3">0.05</text><text x="751.9" y="368">0.1</text><text x="751.9" y="286.7">0.15</text><text x="751.9" y="205.4">0.2</text><text x="751.9" y="124.1">0.25</text><text x="751.9" y="42.8">0.3</text></g>
<text x="709.5" y="22.6" font-size="21.3" fill="#262626">mg/m<tspan font-size="13.7" dy="-10.4">3</tspan></text>
</g>
<g id="panel-b">
<clipPath id="clipb"><rect x="930.1" y="35.4" width="601.1999999999999" height="487.80000000000007"/></clipPath>
<g clip-path="url(#clipb)" shape-rendering="geometricPrecision">
<mask id="olb" maskUnits="userSpaceOnUse" x="0" y="0" width="1640" height="1191"><path d="M930.1 35.4L990.22 35.4L1050.34 35.4L1170.58 35.4L1230.7 35.4L1290.82 35.4L1350.94 35.4L1411.06 35.4L1471.18 35.4L1531.3 35.4L1531.3 58.72L1531.3 94.41L1531.3 154.14L1531.3 213.86L1531.3 273.83L1531.3 332.6L1531.3 390.42L1531.3 509.16L1471.18 518.2L1411.06 511.3L1350.94 516.3L1290.82 518.2L1230.7 513.68L1170.58 516.3L1050.34 511.3L990.22 516.3L930.1 511.3L930.1 392.56L930.1 334.98L930.1 273.83L930.1 213.86L930.1 154.14L930.1 94.41L930.1 61.57Z" fill="#fff"/></mask>
<g mask="url(#olb)">
<path d="M930.1 35.4L990.22 35.4L1050.34 35.4L1170.58 35.4L1230.7 35.4L1290.82 35.4L1350.94 35.4L1411.06 35.4L1471.18 35.4L1531.3 35.4L1531.3 58.72L1531.3 94.41L1531.3 154.14L1531.3 213.86L1531.3 273.83L1531.3 332.6L1531.3 390.42L1531.3 509.16L1471.18 518.2L1411.06 511.3L1350.94 516.3L1290.82 518.2L1230.7 513.68L1170.58 516.3L1050.34 511.3L990.22 516.3L930.1 511.3L930.1 392.56L930.1 334.98L930.1 273.83L930.1 213.86L930.1 154.14L930.1 94.41L930.1 61.57Z" fill="#3e26a8" stroke="#3e26a8" stroke-width="2"/>
<path d="M1201.25 35.4L1230.7 35.4L1260.15 35.4L1240.72 61.57L1265.77 95.94L1265.77 158.16L1290.82 207.29L1302.46 217.97L1290.82 229.12L1271.91 273.83L1280.66 333L1290.82 338.43L1350.94 365.02L1404.38 330.12L1411.06 323.26L1471.18 334.98L1487.7 275.55L1501.24 215.05L1481.31 158.29L1512.93 95.21L1531.3 67.52L1531.3 94.41L1531.3 154.14L1531.3 213.86L1531.3 273.83L1531.3 332.6L1531.3 390.42L1531.3 509.16L1471.18 518.2L1411.06 511.3L1350.94 516.3L1290.82 518.2L1230.7 513.68L1170.58 516.3L1050.34 511.3L990.22 516.3L930.1 511.3L930.1 393.48L947.99 392.56L990.22 348.94L1050.34 351.87L1170.58 347.66L1180.74 334.58L1187.3 273.83L1195.63 217.75L1195.63 158.16L1195.63 96.08L1220.68 62.33ZM1456.15 63.72L1471.18 58.05L1500.01 35.4L1531.3 35.4L1531.3 55.4L1506.13 60.81L1471.18 69.27ZM1388.51 97.83L1411.06 80.37L1433.61 97.03L1411.06 120.32Z" fill="#484df0" stroke="#484df0" stroke-width="1.6" stroke-linejoin="round" fill-rule="evenodd"/>
<path d="M1220.68 94.89L1230.7 83.47L1240.72 94.85L1240.72 155.29L1251.43 215.42L1253.01 273.83L1270.51 332.92L1290.82 343.78L1350.94 396.31L1411.06 333.81L1471.18 341.85L1531.3 332.92L1531.3 390.42L1531.3 509.16L1471.18 518.2L1411.06 511.3L1350.94 516.3L1290.82 518.2L1230.7 513.68L1170.58 516.3L1050.34 511.3L990.22 516.3L930.1 511.3L930.1 394.39L965.89 392.56L990.22 367.43L1050.34 381.19L1170.58 360.33L1190.89 334.18L1207.21 273.83L1220.68 214.97L1220.68 155.29ZM1498.2 156.89L1531.3 107.68L1531.3 154.14L1531.3 213.86L1531.3 273.83L1531.3 329.87L1504.21 274.9L1531.3 213.86Z" fill="#327cfc" stroke="#327cfc" stroke-width="1.6" stroke-linejoin="round" fill-rule="evenodd"/>
<path d="M1515.09 155.49L1531.3 131.38L1531.3 154.14L1531.3 183.39ZM1227.12 273.83L1230.7 259.99L1234.1 273.83L1260.35 332.84L1290.82 349.13L1344.58 397.03L1350.94 400.15L1355.61 397.32L1411.06 338.7L1471.18 348.72L1531.3 336.91L1531.3 390.42L1531.3 509.16L1471.18 518.2L1411.06 511.3L1350.94 516.3L1290.82 518.2L1230.7 513.68L1170.58 516.3L1050.34 511.3L990.22 516.3L930.1 511.3L930.1 395.3L983.78 392.56L990.22 385.91L1012.49 392.56L1050.34 393.11L1079.63 393.67L1170.58 373L1201.05 333.77ZM1520.73 274.25L1531.3 250.43L1531.3 273.83L1531.3 295.7Z" fill="#20a5e3" stroke="#20a5e3" stroke-width="1.6" stroke-linejoin="round" fill-rule="evenodd"/>
<path d="M1211.2 333.37L1230.7 291.42L1250.2 332.76L1290.82 354.48L1337.96 396.48L1350.94 402.86L1360.47 397.07L1411.06 343.6L1471.18 355.59L1531.3 340.91L1531.3 390.42L1531.3 509.16L1471.18 518.2L1411.06 511.3L1350.94 516.3L1290.82 518.2L1230.7 513.68L1170.58 516.3L1050.34 511.3L990.22 516.3L930.1 511.3L930.1 396.22L990.22 393.26L1050.34 394L1127.5 395.47L1170.58 385.68Z" fill="#19bfb6" stroke="#19bfb6" stroke-width="1.6" stroke-linejoin="round" fill-rule="evenodd"/>
<path d="M1221.36 332.97L1230.7 312.87L1240.04 332.68L1290.82 359.83L1331.34 395.93L1350.94 405.56L1365.34 396.82L1411.06 348.49L1471.18 362.46L1531.3 344.9L1531.3 390.42L1531.3 509.16L1471.18 518.2L1411.06 511.3L1350.94 516.3L1290.82 518.2L1230.7 513.68L1170.58 516.3L1050.34 511.3L990.22 516.3L930.1 511.3L930.1 397.13L990.22 394.33L1050.34 394.89L1170.58 397.29L1171.14 397.04Z" fill="#64cd6f" stroke="#64cd6f" stroke-width="1.6" stroke-linejoin="round" fill-rule="evenodd"/>
<path d="M1176.76 396.62L1230.7 333.1L1290.82 365.17L1324.72 395.38L1350.94 408.26L1370.2 396.57L1411.06 353.38L1471.18 369.33L1531.3 348.89L1531.3 390.42L1531.3 509.16L1471.18 518.2L1411.06 511.3L1350.94 516.3L1290.82 518.2L1230.7 513.68L1170.58 516.3L1050.34 511.3L990.22 516.3L930.1 511.3L930.1 398.04L990.22 395.41L1050.34 395.77L1170.58 399.38Z" fill="#d1bf27" stroke="#d1bf27" stroke-width="1.6" stroke-linejoin="round" fill-rule="evenodd"/>
<path d="M1182.38 396.2L1230.7 339.29L1290.82 370.52L1318.1 394.83L1350.94 410.96L1375.07 396.32L1411.06 358.27L1471.18 376.2L1531.3 352.89L1531.3 390.42L1531.3 509.16L1471.18 518.2L1411.06 511.3L1350.94 516.3L1290.82 518.2L1230.7 513.68L1170.58 516.3L1050.34 511.3L990.22 516.3L930.1 511.3L930.1 398.96L990.22 396.49L1050.34 396.66L1170.58 401.47Z" fill="#fccf30" stroke="#fccf30" stroke-width="1.6" stroke-linejoin="round" fill-rule="evenodd"/>
<path d="M1188 395.78L1230.7 345.49L1290.82 375.87L1311.48 394.28L1350.94 413.66L1379.93 396.07L1411.06 363.16L1471.18 383.07L1531.3 356.88L1531.3 390.42L1531.3 509.16L1471.18 518.2L1411.06 511.3L1350.94 516.3L1290.82 518.2L1230.7 513.68L1170.58 516.3L1050.34 511.3L990.22 516.3L930.1 511.3L930.1 399.87L990.22 397.57L1050.34 397.55L1170.58 403.56Z" fill="#f9fb15" stroke="#f9fb15" stroke-width="1.6" stroke-linejoin="round" fill-rule="evenodd"/>
</g></g>
<g fill="#808080"><circle cx="930.1" cy="35.4" r="5.2"/><circle cx="930.1" cy="61.57" r="5.2"/><circle cx="930.1" cy="94.41" r="5.2"/><circle cx="930.1" cy="154.14" r="5.2"/><circle cx="930.1" cy="213.86" r="5.2"/><circle cx="930.1" cy="273.83" r="5.2"/><circle cx="930.1" cy="334.98" r="5.2"/><circle cx="930.1" cy="392.56" r="5.2"/><circle cx="930.1" cy="511.3" r="5.2"/><circle cx="990.22" cy="35.4" r="5.2"/><circle cx="990.22" cy="63.95" r="5.2"/><circle cx="990.22" cy="97.27" r="5.2"/><circle cx="990.22" cy="156.76" r="5.2"/><circle cx="990.22" cy="216.24" r="5.2"/><circle cx="990.22" cy="275.49" r="5.2"/><circle cx="990.22" cy="330.46" r="5.2"/><circle cx="990.22" cy="392.56" r="5.2"/><circle cx="990.22" cy="516.3" r="5.2"/><circle cx="1050.34" cy="35.4" r="5.2"/><circle cx="1050.34" cy="61.57" r="5.2"/><circle cx="1050.34" cy="94.41" r="5.2"/><circle cx="1050.34" cy="154.14" r="5.2"/><circle cx="1050.34" cy="209.1" r="5.2"/><circle cx="1050.34" cy="271.21" r="5.2"/><circle cx="1050.34" cy="334.98" r="5.2"/><circle cx="1050.34" cy="392.56" r="5.2"/><circle cx="1050.34" cy="511.3" r="5.2"/><circle cx="1170.58" cy="35.4" r="5.2"/><circle cx="1170.58" cy="66.1" r="5.2"/><circle cx="1170.58" cy="97.27" r="5.2"/><circle cx="1170.58" cy="161.04" r="5.2"/><circle cx="1170.58" cy="220.53" r="5.2"/><circle cx="1170.58" cy="273.83" r="5.2"/><circle cx="1170.58" cy="334.98" r="5.2"/><circle cx="1170.58" cy="397.09" r="5.2"/><circle cx="1170.58" cy="516.3" r="5.2"/><circle cx="1230.7" cy="35.4" r="5.2"/><circle cx="1230.7" cy="61.57" r="5.2"/><circle cx="1230.7" cy="94.41" r="5.2"/><circle cx="1230.7" cy="154.14" r="5.2"/><circle cx="1230.7" cy="213.86" r="5.2"/><circle cx="1230.7" cy="273.83" r="5.2"/><circle cx="1230.7" cy="332.6" r="5.2"/><circle cx="1230.7" cy="392.56" r="5.2"/><circle cx="1230.7" cy="513.68" r="5.2"/><circle cx="1290.82" cy="35.4" r="5.2"/><circle cx="1290.82" cy="61.57" r="5.2"/><circle cx="1290.82" cy="97.03" r="5.2"/><circle cx="1290.82" cy="161.04" r="5.2"/><circle cx="1290.82" cy="218.38" r="5.2"/><circle cx="1290.82" cy="273.83" r="5.2"/><circle cx="1290.82" cy="333.08" r="5.2"/><circle cx="1290.82" cy="392.56" r="5.2"/><circle cx="1290.82" cy="518.2" r="5.2"/><circle cx="1350.94" cy="35.4" r="5.2"/><circle cx="1350.94" cy="63.72" r="5.2"/><circle cx="1350.94" cy="99.17" r="5.2"/><circle cx="1350.94" cy="156.28" r="5.2"/><circle cx="1350.94" cy="216.24" r="5.2"/><circle cx="1350.94" cy="278.11" r="5.2"/><circle cx="1350.94" cy="334.98" r="5.2"/><circle cx="1350.94" cy="397.56" r="5.2"/><circle cx="1350.94" cy="516.3" r="5.2"/><circle cx="1411.06" cy="35.4" r="5.2"/><circle cx="1411.06" cy="63.72" r="5.2"/><circle cx="1411.06" cy="97.03" r="5.2"/><circle cx="1411.06" cy="159.13" r="5.2"/><circle cx="1411.06" cy="213.86" r="5.2"/><circle cx="1411.06" cy="271.21" r="5.2"/><circle cx="1411.06" cy="329.51" r="5.2"/><circle cx="1411.06" cy="394.47" r="5.2"/><circle cx="1411.06" cy="511.3" r="5.2"/><circle cx="1471.18" cy="35.4" r="5.2"/><circle cx="1471.18" cy="63.72" r="5.2"/><circle cx="1471.18" cy="97.03" r="5.2"/><circle cx="1471.18" cy="159.13" r="5.2"/><circle cx="1471.18" cy="216.24" r="5.2"/><circle cx="1471.18" cy="276.21" r="5.2"/><circle cx="1471.18" cy="334.98" r="5.2"/><circle cx="1471.18" cy="397.09" r="5.2"/><circle cx="1471.18" cy="518.2" r="5.2"/><circle cx="1531.3" cy="35.4" r="5.2"/><circle cx="1531.3" cy="58.72" r="5.2"/><circle cx="1531.3" cy="94.41" r="5.2"/><circle cx="1531.3" cy="154.14" r="5.2"/><circle cx="1531.3" cy="213.86" r="5.2"/><circle cx="1531.3" cy="273.83" r="5.2"/><circle cx="1531.3" cy="332.6" r="5.2"/><circle cx="1531.3" cy="390.42" r="5.2"/><circle cx="1531.3" cy="509.16" r="5.2"/></g>
<mask id="mkb" maskUnits="userSpaceOnUse" x="0" y="0" width="1640" height="1191"><rect width="1640" height="1191" fill="#fff"/><rect x="-24" y="-18.5" width="48" height="37" fill="#000" transform="translate(1230 98.25) rotate(-12)"/><rect x="-23.46" y="-11" width="46.92" height="22" fill="#000" transform="translate(1188.75 332.5) rotate(-65)"/><rect x="-23.46" y="-11" width="46.92" height="22" fill="#000" transform="translate(1268.75 328.75) rotate(55)"/><rect x="-23.46" y="-11" width="46.92" height="22" fill="#000" transform="translate(1506.25 163.75) rotate(80)"/><rect x="-23.46" y="-11" width="46.92" height="22" fill="#000" transform="translate(1467.5 346.75) rotate(5)"/></mask>
<g clip-path="url(#clipb)"><g mask="url(#mkb)" fill="none" stroke="#000" stroke-width="5.0" stroke-linejoin="round" stroke-linecap="butt">
<path d="M1531.3 213.86L1498.2 156.89L1531.3 107.68"/>
<path d="M1531.3 329.87L1504.21 274.9L1531.3 213.86"/>
<path d="M930.1 394.39L965.89 392.56L990.22 367.43L1050.34 381.19L1170.58 360.33L1190.89 334.18L1207.21 273.83L1220.68 214.97L1220.68 155.29L1220.68 94.89L1230.7 83.47L1240.72 94.85L1240.72 155.29L1251.43 215.42L1253.01 273.83L1270.51 332.92L1290.82 343.78L1350.94 396.31L1411.06 333.81L1471.18 341.85L1531.3 332.92"/>
</g></g>
<text transform="translate(1230 98.25) rotate(-12)" y="7.16" text-anchor="middle" font-size="20" font-weight="bold" fill="#000">0.05</text><text transform="translate(1188.75 332.5) rotate(-65)" y="7.16" text-anchor="middle" font-size="20" font-weight="bold" fill="#000">0.05</text><text transform="translate(1268.75 328.75) rotate(55)" y="7.16" text-anchor="middle" font-size="20" font-weight="bold" fill="#000">0.05</text><text transform="translate(1506.25 163.75) rotate(80)" y="7.16" text-anchor="middle" font-size="20" font-weight="bold" fill="#000">0.05</text><text transform="translate(1467.5 346.75) rotate(5)" y="7.16" text-anchor="middle" font-size="20" font-weight="bold" fill="#000">0.05</text>
<mask id="mmb" maskUnits="userSpaceOnUse" x="0" y="0" width="1640" height="1191"><rect width="1640" height="1191" fill="#fff"/><rect x="-23.46" y="-11" width="46.92" height="22" fill="#000" transform="translate(980.5 356.25) rotate(12)"/><rect x="-23.46" y="-11" width="46.92" height="22" fill="#000" transform="translate(1065 276.25) rotate(70)"/><rect x="-23.46" y="-11" width="46.92" height="22" fill="#000" transform="translate(1270 303.75) rotate(2)"/></mask>
<g clip-path="url(#clipb)"><g mask="url(#mmb)" fill="none" stroke="#ff00ff" stroke-width="5.0" stroke-linejoin="round" stroke-linecap="butt">
<path d="M930 321.25L948.75 333.75L960 343.75L980.5 356.25L997.5 351.25L1032.5 272.5L1050.25 208.75L1058.75 246.25L1065 276.25L1076.25 306.25L1087.5 332.5L1110 345L1170.5 335L1230.5 302.5L1238.75 302.5L1270 303.75L1298.75 302L1411 283.75L1471 280L1482.5 272.5L1531 223.75"/>
<path d="M1170.5 89L1173.5 94L1170.5 99L1167.5 94L1170.5 89L1173.5 94"/>
<path d="M1044 46.5L1049 49L1054 47"/>
</g></g>
<text transform="translate(980.5 356.25) rotate(12)" y="7.16" text-anchor="middle" font-size="20" font-weight="bold" fill="#ff00ff">0.05</text><text transform="translate(1065 276.25) rotate(70)" y="7.16" text-anchor="middle" font-size="20" font-weight="bold" fill="#ff00ff">0.05</text><text transform="translate(1270 303.75) rotate(2)" y="7.16" text-anchor="middle" font-size="20" font-weight="bold" fill="#ff00ff">0.05</text>
<rect x="984.8" y="64.2" width="36.6" height="36.8" fill="#fff"/>
<text x="1003.1" y="91.3" text-anchor="middle" font-size="22" fill="#000">(b)</text>
<g stroke="#262626" stroke-width="1" fill="none"><rect x="930.1" y="35.4" width="601.2" height="487.8" fill="none"/><path d="M930.1 523.2v6M930.1 35.4v-6"/><path d="M990.22 523.2v6M990.22 35.4v-6"/><path d="M1050.34 523.2v6M1050.34 35.4v-6"/><path d="M1110.46 523.2v6M1110.46 35.4v-6"/><path d="M1170.58 523.2v6M1170.58 35.4v-6"/><path d="M1230.7 523.2v6M1230.7 35.4v-6"/><path d="M1290.82 523.2v6M1290.82 35.4v-6"/><path d="M1350.94 523.2v6M1350.94 35.4v-6"/><path d="M1411.06 523.2v6M1411.06 35.4v-6"/><path d="M1471.18 523.2v6M1471.18 35.4v-6"/><path d="M1531.3 523.2v6M1531.3 35.4v-6"/><path d="M930.1 35.4h-6M1531.3 35.4h6"/><path d="M930.1 82.99h-6M1531.3 82.99h6"/><path d="M930.1 130.58h-6M1531.3 130.58h6"/><path d="M930.1 178.17h-6M1531.3 178.17h6"/><path d="M930.1 225.76h-6M1531.3 225.76h6"/><path d="M930.1 273.35h-6M1531.3 273.35h6"/><path d="M930.1 320.94h-6M1531.3 320.94h6"/><path d="M930.1 368.53h-6M1531.3 368.53h6"/><path d="M930.1 416.12h-6M1531.3 416.12h6"/><path d="M930.1 463.71h-6M1531.3 463.71h6"/><path d="M930.1 511.3h-6M1531.3 511.3h6"/></g>
<g font-size="21.3" fill="#262626"><text x="930.1" y="558.5" text-anchor="middle">15</text><text x="990.22" y="558.5" text-anchor="middle">16</text><text x="1050.34" y="558.5" text-anchor="middle">17</text><text x="1110.46" y="558.5" text-anchor="middle">18</text><text x="1170.58" y="558.5" text-anchor="middle">19</text><text x="1230.7" y="558.5" text-anchor="middle">20</text><text x="1290.82" y="558.5" text-anchor="middle">21</text><text x="1350.94" y="558.5" text-anchor="middle">22</text><text x="1411.06" y="558.5" text-anchor="middle">23</text><text x="1471.18" y="558.5" text-anchor="middle">24</text><text x="1531.3" y="558.5" text-anchor="middle">25</text><text x="916.2" y="44.1" text-anchor="end">0</text><text x="916.2" y="91.69" text-anchor="end">20</text><text x="916.2" y="139.28" text-anchor="end">40</text><text x="916.2" y="186.87" text-anchor="end">60</text><text x="916.2" y="234.46" text-anchor="end">80</text><text x="916.2" y="282.05" text-anchor="end">100</text><text x="916.2" y="329.64" text-anchor="end">120</text><text x="916.2" y="377.23" text-anchor="end">140</text><text x="916.2" y="424.82" text-anchor="end">160</text><text x="916.2" y="472.41" text-anchor="end">180</text><text x="916.2" y="520" text-anchor="end">200</text></g>
<g shape-rendering="crispEdges"><rect x="1560" y="515.38" width="35.7" height="8.02" fill="#3e26a8"/><rect x="1560" y="507.76" width="35.7" height="8.02" fill="#402ab4"/><rect x="1560" y="500.13" width="35.7" height="8.02" fill="#422ec0"/><rect x="1560" y="492.51" width="35.7" height="8.02" fill="#4432cb"/><rect x="1560" y="484.89" width="35.7" height="8.02" fill="#4537d5"/><rect x="1560" y="477.27" width="35.7" height="8.02" fill="#463cde"/><rect x="1560" y="469.65" width="35.7" height="8.02" fill="#4741e5"/><rect x="1560" y="462.03" width="35.7" height="8.02" fill="#4747eb"/><rect x="1560" y="454.4" width="35.7" height="8.02" fill="#484df0"/><rect x="1560" y="446.78" width="35.7" height="8.02" fill="#4852f4"/><rect x="1560" y="439.16" width="35.7" height="8.02" fill="#4758f8"/><rect x="1560" y="431.54" width="35.7" height="8.02" fill="#465efb"/><rect x="1560" y="423.92" width="35.7" height="8.02" fill="#4563fd"/><rect x="1560" y="416.29" width="35.7" height="8.02" fill="#4269fe"/><rect x="1560" y="408.67" width="35.7" height="8.02" fill="#3e6fff"/><rect x="1560" y="401.05" width="35.7" height="8.02" fill="#3875fe"/><rect x="1560" y="393.43" width="35.7" height="8.02" fill="#327cfc"/><rect x="1560" y="385.81" width="35.7" height="8.02" fill="#2f81fa"/><rect x="1560" y="378.18" width="35.7" height="8.02" fill="#2e87f7"/><rect x="1560" y="370.56" width="35.7" height="8.02" fill="#2d8cf3"/><rect x="1560" y="362.94" width="35.7" height="8.02" fill="#2b91ef"/><rect x="1560" y="355.32" width="35.7" height="8.02" fill="#2797eb"/><rect x="1560" y="347.7" width="35.7" height="8.02" fill="#259be8"/><rect x="1560" y="340.08" width="35.7" height="8.02" fill="#23a0e5"/><rect x="1560" y="332.45" width="35.7" height="8.02" fill="#20a5e3"/><rect x="1560" y="324.83" width="35.7" height="8.02" fill="#1ca9df"/><rect x="1560" y="317.21" width="35.7" height="8.02" fill="#18addb"/><rect x="1560" y="309.59" width="35.7" height="8.02" fill="#12b1d6"/><rect x="1560" y="301.97" width="35.7" height="8.02" fill="#08b5d0"/><rect x="1560" y="294.34" width="35.7" height="8.02" fill="#01b8ca"/><rect x="1560" y="286.72" width="35.7" height="8.02" fill="#02bac3"/><rect x="1560" y="279.1" width="35.7" height="8.02" fill="#0bbdbd"/><rect x="1560" y="271.48" width="35.7" height="8.02" fill="#19bfb6"/><rect x="1560" y="263.86" width="35.7" height="8.02" fill="#24c1ae"/><rect x="1560" y="256.23" width="35.7" height="8.02" fill="#2cc4a7"/><rect x="1560" y="248.61" width="35.7" height="8.02" fill="#31c69f"/><rect x="1560" y="240.99" width="35.7" height="8.02" fill="#37c897"/><rect x="1560" y="233.37" width="35.7" height="8.02" fill="#3fca8e"/><rect x="1560" y="225.75" width="35.7" height="8.02" fill="#4acb84"/><rect x="1560" y="218.12" width="35.7" height="8.02" fill="#57cc7a"/><rect x="1560" y="210.5" width="35.7" height="8.02" fill="#64cd6f"/><rect x="1560" y="202.88" width="35.7" height="8.02" fill="#72cd64"/><rect x="1560" y="195.26" width="35.7" height="8.02" fill="#81cc59"/><rect x="1560" y="187.64" width="35.7" height="8.02" fill="#8fcb4e"/><rect x="1560" y="180.02" width="35.7" height="8.02" fill="#9dc943"/><rect x="1560" y="172.39" width="35.7" height="8.02" fill="#abc739"/><rect x="1560" y="164.77" width="35.7" height="8.02" fill="#b9c431"/><rect x="1560" y="157.15" width="35.7" height="8.02" fill="#c5c22a"/><rect x="1560" y="149.53" width="35.7" height="8.02" fill="#d1bf27"/><rect x="1560" y="141.91" width="35.7" height="8.02" fill="#dcbd29"/><rect x="1560" y="134.28" width="35.7" height="8.02" fill="#e6bb2d"/><rect x="1560" y="126.66" width="35.7" height="8.02" fill="#f0ba36"/><rect x="1560" y="119.04" width="35.7" height="8.02" fill="#f8ba3d"/><rect x="1560" y="111.42" width="35.7" height="8.02" fill="#febe3c"/><rect x="1560" y="103.8" width="35.7" height="8.02" fill="#fec338"/><rect x="1560" y="96.17" width="35.7" height="8.02" fill="#fec934"/><rect x="1560" y="88.55" width="35.7" height="8.02" fill="#fccf30"/><rect x="1560" y="80.93" width="35.7" height="8.02" fill="#fad62d"/><rect x="1560" y="73.31" width="35.7" height="8.02" fill="#f7dc2a"/><rect x="1560" y="65.69" width="35.7" height="8.02" fill="#f5e327"/><rect x="1560" y="58.07" width="35.7" height="8.02" fill="#f5e924"/><rect x="1560" y="50.44" width="35.7" height="8.02" fill="#f6ef20"/><rect x="1560" y="42.82" width="35.7" height="8.02" fill="#f7f51b"/><rect x="1560" y="35.2" width="35.7" height="8.02" fill="#f9fb15"/></g>
<g stroke="#262626" stroke-width="1" fill="none"><rect x="1560" y="35.4" width="35.7" height="487.8" fill="none"/><path d="M1595.7 474.42h-5"/><path d="M1595.7 425.64h-5"/><path d="M1595.7 376.86h-5"/><path d="M1595.7 328.08h-5"/><path d="M1595.7 279.3h-5"/><path d="M1595.7 230.52h-5"/><path d="M1595.7 181.74h-5"/><path d="M1595.7 132.96h-5"/><path d="M1595.7 84.18h-5"/></g>
<g font-size="19.2" fill="#262626"><text x="1603.2" y="530.6">0</text><text x="1603.2" y="481.82">0.02</text><text x="1603.2" y="433.04">0.04</text><text x="1603.2" y="384.26">0.06</text><text x="1603.2" y="335.48">0.08</text><text x="1603.2" y="286.7">0.1</text><text x="1603.2" y="237.92">0.12</text><text x="1603.2" y="189.14">0.14</text><text x="1603.2" y="140.36">0.16</text><text x="1603.2" y="91.58">0.18</text><text x="1603.2" y="42.8">0.2</text></g>
<text x="1562.6" y="19.5" font-size="21.3" fill="#262626"><tspan font-style="italic">μ</tspan>mol/kg</text>
</g>
<g id="panel-c">
<clipPath id="clipc"><rect x="78.2" y="624.3" width="601.1999999999999" height="488.5"/></clipPath>
<g clip-path="url(#clipc)" shape-rendering="geometricPrecision">
<mask id="olc" maskUnits="userSpaceOnUse" x="0" y="0" width="1640" height="1191"><path d="M78.2 624.3L138.32 624.3L198.44 624.3L317.48 624.3L318.68 624.3L378.8 624.3L438.92 624.3L499.04 624.3L559.16 624.3L619.28 624.3L679.4 624.3L679.4 647.65L679.4 683.4L679.4 743.21L679.4 803.02L679.4 863.07L679.4 921.93L679.4 979.83L679.4 1098.74L619.28 1107.8L559.16 1100.89L499.04 1105.89L438.92 1107.8L378.8 1103.27L318.68 1105.89L317.48 1105.89L198.44 1100.89L138.32 1105.89L78.2 1100.89L78.2 981.98L78.2 924.31L78.2 863.07L78.2 803.02L78.2 743.21L78.2 683.4L78.2 650.51Z" fill="#fff"/></mask>
<g mask="url(#olc)">
<path d="M78.2 624.3L138.32 624.3L198.44 624.3L317.48 624.3L318.68 624.3L378.8 624.3L438.92 624.3L499.04 624.3L559.16 624.3L619.28 624.3L679.4 624.3L679.4 647.65L679.4 683.4L679.4 743.21L679.4 803.02L679.4 863.07L679.4 921.93L679.4 979.83L679.4 1098.74L619.28 1107.8L559.16 1100.89L499.04 1105.89L438.92 1107.8L378.8 1103.27L318.68 1105.89L317.48 1105.89L198.44 1100.89L138.32 1105.89L78.2 1100.89L78.2 981.98L78.2 924.31L78.2 863.07L78.2 803.02L78.2 743.21L78.2 683.4L78.2 650.51Z" fill="#3e26a8" stroke="#3e26a8" stroke-width="2"/>
<path d="M78.2 624.3L138.32 624.3L198.44 624.3L317.48 624.3L318.68 624.3L378.8 624.3L438.92 624.3L499.04 624.3L559.16 624.3L619.28 624.3L619.28 624.3L619.28 624.3L615.32 652.66L608.39 686.02L604.25 748.21L604.25 804.81L604.25 864.2L619.28 914.5L649.34 923.12L679.4 923.45L679.4 979.83L679.4 1098.74L619.28 1107.8L559.16 1100.89L499.04 1105.89L438.92 1107.8L378.8 1103.27L318.68 1105.89L317.48 1105.89L198.44 1100.89L138.32 1105.89L78.2 1100.89L78.2 981.98L78.2 924.31L78.2 863.07L78.2 803.02L78.2 743.21L78.2 683.4L78.2 650.51ZM317.48 960.59L297.64 985.75L317.48 992.14L318.68 992.14L329.26 985.71L318.68 960.59ZM499.04 638.48L495.26 652.52L468.37 687.07L468.37 747.78L468.37 806.5L468.37 865.17L438.92 904.95L409.47 863.07L409.47 805.33L409.47 746.73L401.92 684.4L378.8 671.79L375.06 683.57L372.19 743.97L341.23 807.19L368.06 863.07L353.75 922.92L378.8 932.5L438.92 929.41L491.97 986.39L499.04 990.48L500.43 986.91L514.07 922.94L514.07 865.63L514.07 804.81L514.07 746.07L509.93 687.77L500.76 652.66Z" fill="#4741e5" stroke="#4741e5" stroke-width="1.6" stroke-linejoin="round" fill-rule="evenodd"/>
<path d="M78.2 624.3L138.32 624.3L198.44 624.3L317.48 624.3L318.68 624.3L378.8 624.3L438.92 624.3L481.74 624.3L476.35 651.85L438.92 685.31L378.8 652.45L368.82 683.87L365.59 744.73L318.68 806.51L317.48 806.51L312.19 809.18L317.48 815.03L318.68 815.03L357.33 863.07L328.7 923.91L378.8 943.07L438.92 946.93L474.28 984.92L499.04 999.22L503.89 986.73L529.1 921.57L529.1 863.9L529.1 804.21L529.1 746.78L520.82 687.39L509.35 652.66L510.02 624.3L559.16 624.3L606.15 624.3L607.06 652.66L597.5 686.02L589.22 748.21L589.22 804.21L589.22 862.95L602.1 922.74L619.28 965.77L679.4 931.07L679.4 979.83L679.4 1098.74L619.28 1107.8L559.16 1100.89L499.04 1105.89L438.92 1107.8L378.8 1103.27L318.68 1105.89L317.48 1105.89L198.44 1100.89L138.32 1105.89L78.2 1100.89L78.2 981.98L78.2 924.31L78.2 863.07L78.2 803.02L78.2 743.21L78.2 683.4L78.2 650.51ZM317.48 934.68L277.8 985L317.48 997.77L318.68 997.77L339.85 984.91L318.68 934.68Z" fill="#4563fd" stroke="#4563fd" stroke-width="1.6" stroke-linejoin="round" fill-rule="evenodd"/>
<path d="M78.2 624.3L138.32 624.3L198.44 624.3L317.48 624.3L318.68 624.3L371.99 624.3L371.99 651.03L362.59 684.17L358.98 745.49L318.68 798.57L317.48 798.57L298.96 807.91L317.48 828.37L318.68 828.37L346.59 863.07L318.68 912.83L317.48 912.83L303.19 924.31L257.96 984.24L317.48 1003.4L318.68 1003.4L350.43 984.11L378.8 953.64L438.92 964.46L456.6 983.45L499.04 1007.97L507.36 986.55L544.13 920.2L544.13 862.18L544.13 803.62L544.13 747.5L531.71 687L517.93 652.66L523.75 624.3L559.16 624.3L593.03 624.3L598.8 652.66L586.61 686.02L574.19 748.21L574.19 803.62L574.19 861.7L580.63 920.79L616.96 986.4L619.28 987.92L625.29 985.84L679.4 938.69L679.4 979.83L679.4 1098.74L619.28 1107.8L559.16 1100.89L499.04 1105.89L438.92 1107.8L378.8 1103.27L318.68 1105.89L317.48 1105.89L198.44 1100.89L138.32 1105.89L78.2 1100.89L78.2 981.98L78.2 924.31L78.2 863.07L78.2 803.02L78.2 743.21L78.2 683.4L78.2 650.51ZM198.44 855.2L195.25 860.68L198.44 869.21L223.69 861ZM407.58 624.3L438.92 624.3L460.11 624.3L457.45 651.17L438.92 667.74L407.58 650.51Z" fill="#2d8cf3" stroke="#2d8cf3" stroke-width="1.6" stroke-linejoin="round" fill-rule="evenodd"/>
<path d="M78.2 624.3L138.32 624.3L198.44 624.3L317.48 624.3L318.68 624.3L364.41 624.3L364.41 651.6L356.35 684.46L352.37 746.25L318.68 790.63L317.48 790.63L285.73 806.64L317.48 841.72L318.68 841.72L335.86 863.07L318.68 893.69L317.48 893.69L279.39 924.31L238.12 983.49L317.48 1009.03L318.68 1009.03L361.02 983.32L378.8 964.22L438.92 981.98L438.92 981.98L499.04 1016.71L510.83 986.37L559.16 918.83L559.16 860.45L559.16 803.02L559.16 748.21L542.61 686.61L526.52 652.66L537.47 624.3L559.16 624.3L579.9 624.3L590.54 652.66L575.71 686.02L559.16 748.21L559.16 803.02L559.16 860.45L559.16 918.83L613.09 986.23L619.28 990.27L635.31 984.73L679.4 946.31L679.4 979.83L679.4 1098.74L619.28 1107.8L559.16 1100.89L499.04 1105.89L438.92 1107.8L378.8 1103.27L318.68 1105.89L317.48 1105.89L198.44 1100.89L138.32 1105.89L78.2 1100.89L78.2 981.98L78.2 924.31L78.2 863.07L78.2 803.02L78.2 743.21L78.2 683.4L78.2 650.51ZM198.44 847.71L190.7 861L198.44 881.74L259.76 861.8Z" fill="#1ca9df" stroke="#1ca9df" stroke-width="1.6" stroke-linejoin="round" fill-rule="evenodd"/>
<path d="M78.2 624.3L138.32 624.3L198.44 624.3L317.48 624.3L318.68 624.3L356.84 624.3L356.84 652.17L350.11 684.76L345.77 747.01L318.68 782.69L317.48 782.69L272.51 805.37L317.48 855.06L318.68 855.06L325.12 863.07L318.68 874.55L317.48 874.55L295.83 862.59L198.44 840.22L186.14 861.33L198.44 894.26L255.58 924.31L218.28 982.73L317.48 1014.66L318.68 1014.66L371.6 982.52L378.8 974.79L403.13 981.98L438.92 986.54L499.04 1025.45L514.3 986.2L559.16 923.5L609.22 986.07L619.28 992.62L645.33 983.61L679.4 953.93L679.4 979.83L679.4 1098.74L619.28 1107.8L559.16 1100.89L499.04 1105.89L438.92 1107.8L378.8 1103.27L318.68 1105.89L317.48 1105.89L198.44 1100.89L138.32 1105.89L78.2 1100.89L78.2 981.98L78.2 924.31L78.2 863.07L78.2 803.02L78.2 743.21L78.2 683.4L78.2 650.51ZM551.2 624.3L559.16 624.3L566.77 624.3L582.28 652.66L564.82 686.02L559.16 707.29L553.5 686.22L535.11 652.66Z" fill="#19bfb6" stroke="#19bfb6" stroke-width="1.6" stroke-linejoin="round" fill-rule="evenodd"/>
<path d="M78.2 624.3L138.32 624.3L198.44 624.3L317.48 624.3L318.68 624.3L349.27 624.3L349.27 652.74L343.88 685.06L339.16 747.76L318.68 774.74L317.48 774.74L259.28 804.1L198.44 832.72L181.59 861.65L198.44 906.78L231.77 924.31L198.44 981.98L317.48 1020.29L318.68 1020.29L378.8 983.38L438.92 991.09L499.04 1034.19L517.76 986.02L559.16 928.16L605.35 985.9L619.28 994.97L655.35 982.5L679.4 961.55L679.4 979.83L679.4 1098.74L619.28 1107.8L559.16 1100.89L499.04 1105.89L438.92 1107.8L378.8 1103.27L318.68 1105.89L317.48 1105.89L198.44 1100.89L138.32 1105.89L78.2 1100.89L78.2 981.98L78.2 924.31L78.2 863.07L78.2 803.02L78.2 743.21L78.2 683.4L78.2 650.51ZM543.7 652.66L559.16 629.66L574.02 652.66L559.16 678.99Z" fill="#4acb84" stroke="#4acb84" stroke-width="1.6" stroke-linejoin="round" fill-rule="evenodd"/>
<path d="M78.2 624.3L138.32 624.3L198.44 624.3L317.48 624.3L318.68 624.3L341.7 624.3L341.7 653.31L337.64 685.35L332.55 748.52L318.68 766.8L317.48 766.8L246.06 802.83L198.44 825.23L177.03 861.98L198.44 919.3L207.96 924.31L198.44 940.79L193.48 981.98L198.44 983.78L317.48 1025.92L318.68 1025.92L378.8 987.75L438.92 995.65L499.04 1042.94L521.23 985.84L559.16 932.83L601.48 985.73L619.28 997.32L665.37 981.39L679.4 969.17L679.4 979.83L679.4 1098.74L619.28 1107.8L559.16 1100.89L499.04 1105.89L438.92 1107.8L378.8 1103.27L318.68 1105.89L317.48 1105.89L198.44 1100.89L138.32 1105.89L78.2 1100.89L78.2 981.98L78.2 924.31L78.2 863.07L78.2 803.02L78.2 743.21L78.2 683.4L78.2 650.51ZM552.29 652.66L559.16 642.44L565.77 652.66L559.16 664.36Z" fill="#9dc943" stroke="#9dc943" stroke-width="1.6" stroke-linejoin="round" fill-rule="evenodd"/>
<path d="M78.2 624.3L138.32 624.3L198.44 624.3L317.48 624.3L318.68 624.3L334.13 624.3L334.13 653.88L331.4 685.65L325.95 749.28L318.68 758.86L317.48 758.86L232.83 801.56L198.44 817.74L172.48 862.3L194.9 924.04L188.52 981.98L198.44 985.58L317.48 1031.56L318.68 1031.56L378.8 992.13L438.92 1000.21L499.04 1051.68L524.7 985.66L559.16 937.5L597.62 985.56L619.28 999.67L675.39 980.28L679.4 976.79L679.4 979.83L679.4 1098.74L619.28 1107.8L559.16 1100.89L499.04 1105.89L438.92 1107.8L378.8 1103.27L318.68 1105.89L317.48 1105.89L198.44 1100.89L138.32 1105.89L78.2 1100.89L78.2 981.98L78.2 924.31L78.2 863.07L78.2 803.02L78.2 743.21L78.2 683.4L78.2 650.51Z" fill="#f0ba36" stroke="#f0ba36" stroke-width="1.6" stroke-linejoin="round" fill-rule="evenodd"/>
<path d="M78.2 624.3L138.32 624.3L198.44 624.3L317.48 624.3L318.68 624.3L326.55 624.3L326.55 654.45L325.17 685.95L319.34 750.04L318.68 750.91L317.48 750.91L300.47 749.13L198.44 735.88L187.17 743.7L198.44 758.22L219.6 800.29L198.44 810.24L167.92 862.63L189.01 923.6L183.56 981.98L198.44 987.38L317.48 1037.19L318.68 1037.19L378.8 996.5L438.92 1004.77L499.04 1060.42L528.16 985.48L559.16 942.16L593.75 985.39L619.28 1002.02L679.4 981.36L679.4 1098.74L619.28 1107.8L559.16 1100.89L499.04 1105.89L438.92 1107.8L378.8 1103.27L318.68 1105.89L317.48 1105.89L198.44 1100.89L138.32 1105.89L78.2 1100.89L78.2 981.98L78.2 924.31L78.2 863.07L78.2 810.08L80.76 803.12L78.2 795.98L78.2 743.21L78.2 683.4L78.2 650.51Z" fill="#fad62d" stroke="#fad62d" stroke-width="1.6" stroke-linejoin="round" fill-rule="evenodd"/>
<path d="M78.2 624.3L138.32 624.3L198.44 624.3L317.48 624.3L318.68 624.3L318.98 624.3L318.98 655.02L318.93 686.24L318.68 688.97L317.48 742.84L198.44 723.68L168.38 744.52L198.44 783.24L206.38 799.02L198.44 802.75L163.37 862.95L183.12 923.16L178.6 981.98L198.44 989.18L317.48 1042.82L318.68 1042.82L378.8 1000.88L438.92 1009.33L499.04 1069.17L531.63 985.3L559.16 946.83L589.88 985.22L619.28 1004.37L679.4 983.9L679.4 1098.74L619.28 1107.8L559.16 1100.89L499.04 1105.89L438.92 1107.8L378.8 1103.27L318.68 1105.89L317.48 1105.89L198.44 1100.89L138.32 1105.89L78.2 1100.89L78.2 981.98L78.2 924.31L78.2 863.07L78.2 827.75L87.15 803.37L78.2 778.39L78.2 743.21L78.2 683.4L78.2 650.51Z" fill="#f9fb15" stroke="#f9fb15" stroke-width="1.6" stroke-linejoin="round" fill-rule="evenodd"/>
</g></g>
<g fill="#808080"><circle cx="78.2" cy="624.3" r="5.2"/><circle cx="78.2" cy="650.51" r="5.2"/><circle cx="78.2" cy="683.4" r="5.2"/><circle cx="78.2" cy="743.21" r="5.2"/><circle cx="78.2" cy="803.02" r="5.2"/><circle cx="78.2" cy="863.07" r="5.2"/><circle cx="78.2" cy="924.31" r="5.2"/><circle cx="78.2" cy="981.98" r="5.2"/><circle cx="78.2" cy="1100.89" r="5.2"/><circle cx="138.32" cy="624.3" r="5.2"/><circle cx="138.32" cy="652.9" r="5.2"/><circle cx="138.32" cy="686.26" r="5.2"/><circle cx="138.32" cy="745.83" r="5.2"/><circle cx="138.32" cy="805.4" r="5.2"/><circle cx="138.32" cy="864.74" r="5.2"/><circle cx="138.32" cy="919.78" r="5.2"/><circle cx="138.32" cy="981.98" r="5.2"/><circle cx="138.32" cy="1105.89" r="5.2"/><circle cx="198.44" cy="624.3" r="5.2"/><circle cx="198.44" cy="650.51" r="5.2"/><circle cx="198.44" cy="683.4" r="5.2"/><circle cx="198.44" cy="743.21" r="5.2"/><circle cx="198.44" cy="798.25" r="5.2"/><circle cx="198.44" cy="860.45" r="5.2"/><circle cx="198.44" cy="924.31" r="5.2"/><circle cx="198.44" cy="981.98" r="5.2"/><circle cx="198.44" cy="1100.89" r="5.2"/><circle cx="318.68" cy="624.3" r="5.2"/><circle cx="318.68" cy="655.04" r="5.2"/><circle cx="318.68" cy="686.26" r="5.2"/><circle cx="318.68" cy="750.12" r="5.2"/><circle cx="318.68" cy="809.69" r="5.2"/><circle cx="318.68" cy="863.07" r="5.2"/><circle cx="318.68" cy="924.31" r="5.2"/><circle cx="318.68" cy="986.5" r="5.2"/><circle cx="318.68" cy="1105.89" r="5.2"/><circle cx="378.8" cy="624.3" r="5.2"/><circle cx="378.8" cy="650.51" r="5.2"/><circle cx="378.8" cy="683.4" r="5.2"/><circle cx="378.8" cy="743.21" r="5.2"/><circle cx="378.8" cy="803.02" r="5.2"/><circle cx="378.8" cy="863.07" r="5.2"/><circle cx="378.8" cy="921.93" r="5.2"/><circle cx="378.8" cy="981.98" r="5.2"/><circle cx="378.8" cy="1103.27" r="5.2"/><circle cx="438.92" cy="624.3" r="5.2"/><circle cx="438.92" cy="650.51" r="5.2"/><circle cx="438.92" cy="686.02" r="5.2"/><circle cx="438.92" cy="750.12" r="5.2"/><circle cx="438.92" cy="807.55" r="5.2"/><circle cx="438.92" cy="863.07" r="5.2"/><circle cx="438.92" cy="922.4" r="5.2"/><circle cx="438.92" cy="981.98" r="5.2"/><circle cx="438.92" cy="1107.8" r="5.2"/><circle cx="499.04" cy="624.3" r="5.2"/><circle cx="499.04" cy="652.66" r="5.2"/><circle cx="499.04" cy="688.16" r="5.2"/><circle cx="499.04" cy="745.35" r="5.2"/><circle cx="499.04" cy="805.4" r="5.2"/><circle cx="499.04" cy="867.36" r="5.2"/><circle cx="499.04" cy="924.31" r="5.2"/><circle cx="499.04" cy="986.98" r="5.2"/><circle cx="499.04" cy="1105.89" r="5.2"/><circle cx="559.16" cy="624.3" r="5.2"/><circle cx="559.16" cy="652.66" r="5.2"/><circle cx="559.16" cy="686.02" r="5.2"/><circle cx="559.16" cy="748.21" r="5.2"/><circle cx="559.16" cy="803.02" r="5.2"/><circle cx="559.16" cy="860.45" r="5.2"/><circle cx="559.16" cy="918.83" r="5.2"/><circle cx="559.16" cy="983.88" r="5.2"/><circle cx="559.16" cy="1100.89" r="5.2"/><circle cx="619.28" cy="624.3" r="5.2"/><circle cx="619.28" cy="652.66" r="5.2"/><circle cx="619.28" cy="686.02" r="5.2"/><circle cx="619.28" cy="748.21" r="5.2"/><circle cx="619.28" cy="805.4" r="5.2"/><circle cx="619.28" cy="865.45" r="5.2"/><circle cx="619.28" cy="924.31" r="5.2"/><circle cx="619.28" cy="986.5" r="5.2"/><circle cx="619.28" cy="1107.8" r="5.2"/><circle cx="679.4" cy="624.3" r="5.2"/><circle cx="679.4" cy="647.65" r="5.2"/><circle cx="679.4" cy="683.4" r="5.2"/><circle cx="679.4" cy="743.21" r="5.2"/><circle cx="679.4" cy="803.02" r="5.2"/><circle cx="679.4" cy="863.07" r="5.2"/><circle cx="679.4" cy="921.93" r="5.2"/><circle cx="679.4" cy="979.83" r="5.2"/><circle cx="679.4" cy="1098.74" r="5.2"/></g>
<mask id="mkc" maskUnits="userSpaceOnUse" x="0" y="0" width="1640" height="1191"><rect width="1640" height="1191" fill="#fff"/><rect x="-23.46" y="-11" width="46.92" height="22" fill="#000" transform="translate(356.25 700.25) rotate(-85)"/><rect x="-23.46" y="-11" width="46.92" height="22" fill="#000" transform="translate(578.75 697.75) rotate(-70)"/><rect x="0" y="0" width="0" height="0" fill="#000" transform="translate(557.6 822.9) rotate(90)"/><rect x="0" y="0" width="0" height="0" fill="#000" transform="translate(557.6 879.9) rotate(90)"/><rect x="-23.46" y="-11" width="46.92" height="22" fill="#000" transform="translate(313.75 895.25) rotate(-45)"/><rect x="-23.46" y="-11" width="46.92" height="22" fill="#000" transform="translate(232.5 871.5) rotate(-25)"/><rect x="-23.46" y="-11" width="46.92" height="22" fill="#000" transform="translate(361.25 980.25) rotate(-30)"/><rect x="-23.46" y="-11" width="46.92" height="22" fill="#000" transform="translate(547.5 941.5) rotate(-55)"/></mask>
<g clip-path="url(#clipc)"><g mask="url(#mkc)" fill="none" stroke="#000" stroke-width="5.0" stroke-linejoin="round" stroke-linecap="butt">
<path d="M364.41 624.3L364.41 651.6L356.35 684.46L352.37 746.25L318.68 790.63L317.48 790.63L285.73 806.64L317.48 841.72L318.68 841.72L335.86 863.07L318.68 893.69L317.48 893.69L279.39 924.31L238.12 983.49L317.48 1009.03L318.68 1009.03L361.02 983.32L378.8 964.22L438.92 981.98L438.92 981.98L499.04 1016.71L510.83 986.37L559.16 918.83L613.09 986.23L619.28 990.27L635.31 984.73L679.4 946.31"/>
<path d="M579.9 624.3L590.54 652.66L575.71 686.02L559.16 748.21L542.61 686.61L526.52 652.66L537.47 624.3"/>
<path d="M198.44 847.71L190.7 861L198.44 881.74L259.76 861.8L198.44 847.71"/>
<path d="M559.2 748L559.2 802"/>
<path d="M559.2 821L559.2 856"/>
<path d="M559.2 879L559.2 920"/>
<path d="M438.9 624.3L438.9 650.5"/>
</g></g>
<text transform="translate(356.25 700.25) rotate(-85)" y="7.16" text-anchor="middle" font-size="20" font-weight="bold" fill="#000">0.02</text><text transform="translate(578.75 697.75) rotate(-70)" y="7.16" text-anchor="middle" font-size="20" font-weight="bold" fill="#000">0.02</text><text transform="translate(557.6 822.9) rotate(90)" y="7.16" text-anchor="middle" font-size="20" font-weight="bold" fill="#000">0.02</text><text transform="translate(557.6 879.9) rotate(90)" y="7.16" text-anchor="middle" font-size="20" font-weight="bold" fill="#000">0.02</text><text transform="translate(313.75 895.25) rotate(-45)" y="7.16" text-anchor="middle" font-size="20" font-weight="bold" fill="#000">0.02</text><text transform="translate(232.5 871.5) rotate(-25)" y="7.16" text-anchor="middle" font-size="20" font-weight="bold" fill="#000">0.02</text><text transform="translate(361.25 980.25) rotate(-30)" y="7.16" text-anchor="middle" font-size="20" font-weight="bold" fill="#000">0.02</text><text transform="translate(547.5 941.5) rotate(-55)" y="7.16" text-anchor="middle" font-size="20" font-weight="bold" fill="#000">0.02</text>
<mask id="mmc" maskUnits="userSpaceOnUse" x="0" y="0" width="1640" height="1191"><rect width="1640" height="1191" fill="#fff"/><rect x="-23.46" y="-11" width="46.92" height="22" fill="#000" transform="translate(477.5 682.75) rotate(-70)"/><rect x="-23.46" y="-11" width="46.92" height="22" fill="#000" transform="translate(375 679) rotate(-80)"/><rect x="-23.46" y="-11" width="46.92" height="22" fill="#000" transform="translate(400 890.25) rotate(-12)"/></mask>
<g clip-path="url(#clipc)"><g mask="url(#mmc)" fill="none" stroke="#ff00ff" stroke-width="5.0" stroke-linejoin="round" stroke-linecap="butt">
<path d="M512.5 636.5L497.5 640.25L482.5 646.5L481.25 652.75L477.5 682.75L465 710.25L439 764L418.75 742.75L395 679L377.5 646.5L375 677.75L370 709L365 744L351.25 801.5L348 861.5L372.5 891L400 890.25L427.5 881.5L440 877.75L499 869L559.25 866.5L619.25 867L632.5 861.5L679.5 826.5"/>
<path d="M196.25 851.5L223.75 862.75L197 875.25L196.25 851.5L223.75 862.75"/>
</g></g>
<text transform="translate(477.5 682.75) rotate(-70)" y="7.16" text-anchor="middle" font-size="20" font-weight="bold" fill="#ff00ff">0.02</text><text transform="translate(375 679) rotate(-80)" y="7.16" text-anchor="middle" font-size="20" font-weight="bold" fill="#ff00ff">0.02</text><text transform="translate(400 890.25) rotate(-12)" y="7.16" text-anchor="middle" font-size="20" font-weight="bold" fill="#ff00ff">0.02</text>
<rect x="132.9" y="653.1" width="36.6" height="36.8" fill="#fff"/>
<text x="151.2" y="680.2" text-anchor="middle" font-size="22" fill="#000">(c)</text>
<g stroke="#262626" stroke-width="1" fill="none"><rect x="78.2" y="624.3" width="601.2" height="488.5" fill="none"/><path d="M78.2 1112.8v6M78.2 624.3v-6"/><path d="M138.32 1112.8v6M138.32 624.3v-6"/><path d="M198.44 1112.8v6M198.44 624.3v-6"/><path d="M258.56 1112.8v6M258.56 624.3v-6"/><path d="M318.68 1112.8v6M318.68 624.3v-6"/><path d="M378.8 1112.8v6M378.8 624.3v-6"/><path d="M438.92 1112.8v6M438.92 624.3v-6"/><path d="M499.04 1112.8v6M499.04 624.3v-6"/><path d="M559.16 1112.8v6M559.16 624.3v-6"/><path d="M619.28 1112.8v6M619.28 624.3v-6"/><path d="M679.4 1112.8v6M679.4 624.3v-6"/><path d="M78.2 624.3h-6M679.4 624.3h6"/><path d="M78.2 671.96h-6M679.4 671.96h6"/><path d="M78.2 719.62h-6M679.4 719.62h6"/><path d="M78.2 767.28h-6M679.4 767.28h6"/><path d="M78.2 814.93h-6M679.4 814.93h6"/><path d="M78.2 862.59h-6M679.4 862.59h6"/><path d="M78.2 910.25h-6M679.4 910.25h6"/><path d="M78.2 957.91h-6M679.4 957.91h6"/><path d="M78.2 1005.57h-6M679.4 1005.57h6"/><path d="M78.2 1053.23h-6M679.4 1053.23h6"/><path d="M78.2 1100.89h-6M679.4 1100.89h6"/></g>
<g font-size="21.3" fill="#262626"><text x="78.2" y="1148.1" text-anchor="middle">15</text><text x="138.32" y="1148.1" text-anchor="middle">16</text><text x="198.44" y="1148.1" text-anchor="middle">17</text><text x="258.56" y="1148.1" text-anchor="middle">18</text><text x="318.68" y="1148.1" text-anchor="middle">19</text><text x="378.8" y="1148.1" text-anchor="middle">20</text><text x="438.92" y="1148.1" text-anchor="middle">21</text><text x="499.04" y="1148.1" text-anchor="middle">22</text><text x="559.16" y="1148.1" text-anchor="middle">23</text><text x="619.28" y="1148.1" text-anchor="middle">24</text><text x="679.4" y="1148.1" text-anchor="middle">25</text><text x="64.3" y="633" text-anchor="end">0</text><text x="64.3" y="680.66" text-anchor="end">20</text><text x="64.3" y="728.32" text-anchor="end">40</text><text x="64.3" y="775.98" text-anchor="end">60</text><text x="64.3" y="823.63" text-anchor="end">80</text><text x="64.3" y="871.29" text-anchor="end">100</text><text x="64.3" y="918.95" text-anchor="end">120</text><text x="64.3" y="966.61" text-anchor="end">140</text><text x="64.3" y="1014.27" text-anchor="end">160</text><text x="64.3" y="1061.93" text-anchor="end">180</text><text x="64.3" y="1109.59" text-anchor="end">200</text></g>
<text transform="translate(17.6 868.55) rotate(-90)" text-anchor="middle" font-size="23.4" fill="#262626">Depth (m)</text>
<text x="378.8" y="1185" text-anchor="middle" font-size="23.4" fill="#262626">Latitude (<tspan font-size="16.4" dy="-12.5">o</tspan><tspan dy="12.5">N)</tspan></text>
<g shape-rendering="crispEdges"><rect x="708.7" y="1104.97" width="35.7" height="8.03" fill="#3e26a8"/><rect x="708.7" y="1097.33" width="35.7" height="8.03" fill="#402ab4"/><rect x="708.7" y="1089.7" width="35.7" height="8.03" fill="#422ec0"/><rect x="708.7" y="1082.07" width="35.7" height="8.03" fill="#4432cb"/><rect x="708.7" y="1074.44" width="35.7" height="8.03" fill="#4537d5"/><rect x="708.7" y="1066.8" width="35.7" height="8.03" fill="#463cde"/><rect x="708.7" y="1059.17" width="35.7" height="8.03" fill="#4741e5"/><rect x="708.7" y="1051.54" width="35.7" height="8.03" fill="#4747eb"/><rect x="708.7" y="1043.9" width="35.7" height="8.03" fill="#484df0"/><rect x="708.7" y="1036.27" width="35.7" height="8.03" fill="#4852f4"/><rect x="708.7" y="1028.64" width="35.7" height="8.03" fill="#4758f8"/><rect x="708.7" y="1021.01" width="35.7" height="8.03" fill="#465efb"/><rect x="708.7" y="1013.37" width="35.7" height="8.03" fill="#4563fd"/><rect x="708.7" y="1005.74" width="35.7" height="8.03" fill="#4269fe"/><rect x="708.7" y="998.11" width="35.7" height="8.03" fill="#3e6fff"/><rect x="708.7" y="990.47" width="35.7" height="8.03" fill="#3875fe"/><rect x="708.7" y="982.84" width="35.7" height="8.03" fill="#327cfc"/><rect x="708.7" y="975.21" width="35.7" height="8.03" fill="#2f81fa"/><rect x="708.7" y="967.58" width="35.7" height="8.03" fill="#2e87f7"/><rect x="708.7" y="959.94" width="35.7" height="8.03" fill="#2d8cf3"/><rect x="708.7" y="952.31" width="35.7" height="8.03" fill="#2b91ef"/><rect x="708.7" y="944.68" width="35.7" height="8.03" fill="#2797eb"/><rect x="708.7" y="937.05" width="35.7" height="8.03" fill="#259be8"/><rect x="708.7" y="929.41" width="35.7" height="8.03" fill="#23a0e5"/><rect x="708.7" y="921.78" width="35.7" height="8.03" fill="#20a5e3"/><rect x="708.7" y="914.15" width="35.7" height="8.03" fill="#1ca9df"/><rect x="708.7" y="906.51" width="35.7" height="8.03" fill="#18addb"/><rect x="708.7" y="898.88" width="35.7" height="8.03" fill="#12b1d6"/><rect x="708.7" y="891.25" width="35.7" height="8.03" fill="#08b5d0"/><rect x="708.7" y="883.62" width="35.7" height="8.03" fill="#01b8ca"/><rect x="708.7" y="875.98" width="35.7" height="8.03" fill="#02bac3"/><rect x="708.7" y="868.35" width="35.7" height="8.03" fill="#0bbdbd"/><rect x="708.7" y="860.72" width="35.7" height="8.03" fill="#19bfb6"/><rect x="708.7" y="853.08" width="35.7" height="8.03" fill="#24c1ae"/><rect x="708.7" y="845.45" width="35.7" height="8.03" fill="#2cc4a7"/><rect x="708.7" y="837.82" width="35.7" height="8.03" fill="#31c69f"/><rect x="708.7" y="830.19" width="35.7" height="8.03" fill="#37c897"/><rect x="708.7" y="822.55" width="35.7" height="8.03" fill="#3fca8e"/><rect x="708.7" y="814.92" width="35.7" height="8.03" fill="#4acb84"/><rect x="708.7" y="807.29" width="35.7" height="8.03" fill="#57cc7a"/><rect x="708.7" y="799.65" width="35.7" height="8.03" fill="#64cd6f"/><rect x="708.7" y="792.02" width="35.7" height="8.03" fill="#72cd64"/><rect x="708.7" y="784.39" width="35.7" height="8.03" fill="#81cc59"/><rect x="708.7" y="776.76" width="35.7" height="8.03" fill="#8fcb4e"/><rect x="708.7" y="769.12" width="35.7" height="8.03" fill="#9dc943"/><rect x="708.7" y="761.49" width="35.7" height="8.03" fill="#abc739"/><rect x="708.7" y="753.86" width="35.7" height="8.03" fill="#b9c431"/><rect x="708.7" y="746.22" width="35.7" height="8.03" fill="#c5c22a"/><rect x="708.7" y="738.59" width="35.7" height="8.03" fill="#d1bf27"/><rect x="708.7" y="730.96" width="35.7" height="8.03" fill="#dcbd29"/><rect x="708.7" y="723.33" width="35.7" height="8.03" fill="#e6bb2d"/><rect x="708.7" y="715.69" width="35.7" height="8.03" fill="#f0ba36"/><rect x="708.7" y="708.06" width="35.7" height="8.03" fill="#f8ba3d"/><rect x="708.7" y="700.43" width="35.7" height="8.03" fill="#febe3c"/><rect x="708.7" y="692.8" width="35.7" height="8.03" fill="#fec338"/><rect x="708.7" y="685.16" width="35.7" height="8.03" fill="#fec934"/><rect x="708.7" y="677.53" width="35.7" height="8.03" fill="#fccf30"/><rect x="708.7" y="669.9" width="35.7" height="8.03" fill="#fad62d"/><rect x="708.7" y="662.26" width="35.7" height="8.03" fill="#f7dc2a"/><rect x="708.7" y="654.63" width="35.7" height="8.03" fill="#f5e327"/><rect x="708.7" y="647" width="35.7" height="8.03" fill="#f5e924"/><rect x="708.7" y="639.37" width="35.7" height="8.03" fill="#f6ef20"/><rect x="708.7" y="631.73" width="35.7" height="8.03" fill="#f7f51b"/><rect x="708.7" y="624.1" width="35.7" height="8.03" fill="#f9fb15"/></g>
<g stroke="#262626" stroke-width="1" fill="none"><rect x="708.7" y="624.3" width="35.7" height="488.5" fill="none"/><path d="M744.4 1063.95h-5"/><path d="M744.4 1015.1h-5"/><path d="M744.4 966.25h-5"/><path d="M744.4 917.4h-5"/><path d="M744.4 868.55h-5"/><path d="M744.4 819.7h-5"/><path d="M744.4 770.85h-5"/><path d="M744.4 722h-5"/><path d="M744.4 673.15h-5"/></g>
<g font-size="19.2" fill="#262626"><text x="751.9" y="1120.2">0</text><text x="751.9" y="1071.35">0.005</text><text x="751.9" y="1022.5">0.01</text><text x="751.9" y="973.65">0.015</text><text x="751.9" y="924.8">0.02</text><text x="751.9" y="875.95">0.025</text><text x="751.9" y="827.1">0.03</text><text x="751.9" y="778.25">0.035</text><text x="751.9" y="729.4">0.04</text><text x="751.9" y="680.55">0.045</text><text x="751.9" y="631.7">0.05</text></g>
<text x="711.3" y="608.4" font-size="21.3" fill="#262626"><tspan font-style="italic">μ</tspan>mol/kg</text>
</g>
<g id="panel-d">
<clipPath id="clipd"><rect x="930.1" y="624.3" width="601.1999999999999" height="488.5"/></clipPath>
<g clip-path="url(#clipd)" shape-rendering="geometricPrecision">
<mask id="old" maskUnits="userSpaceOnUse" x="0" y="0" width="1640" height="1191"><path d="M930.1 624.3L990.22 624.3L1050.34 624.3L1170.58 624.3L1230.7 624.3L1290.82 624.3L1350.94 624.3L1411.06 624.3L1471.18 624.3L1531.3 624.3L1531.3 647.65L1531.3 683.4L1531.3 743.21L1531.3 803.02L1531.3 863.07L1531.3 921.93L1531.3 979.83L1531.3 1098.74L1471.18 1107.8L1411.06 1100.89L1350.94 1105.89L1290.82 1107.8L1230.7 1103.27L1170.58 1105.89L1050.34 1100.89L990.22 1105.89L930.1 1100.89L930.1 981.98L930.1 924.31L930.1 863.07L930.1 803.02L930.1 743.21L930.1 683.4L930.1 650.51Z" fill="#fff"/></mask>
<g mask="url(#old)">
<path d="M930.1 624.3L990.22 624.3L1050.34 624.3L1170.58 624.3L1230.7 624.3L1290.82 624.3L1350.94 624.3L1411.06 624.3L1471.18 624.3L1531.3 624.3L1531.3 647.65L1531.3 683.4L1531.3 743.21L1531.3 803.02L1531.3 863.07L1531.3 921.93L1531.3 979.83L1531.3 1098.74L1471.18 1107.8L1411.06 1100.89L1350.94 1105.89L1290.82 1107.8L1230.7 1103.27L1170.58 1105.89L1050.34 1100.89L990.22 1105.89L930.1 1100.89L930.1 981.98L930.1 924.31L930.1 863.07L930.1 803.02L930.1 743.21L930.1 683.4L930.1 650.51Z" fill="#3e26a8" stroke="#3e26a8" stroke-width="2"/>
<path d="M930.1 624.3L990.22 624.3L1050.34 624.3L1170.58 624.3L1230.7 624.3L1290.82 624.3L1350.94 624.3L1411.06 624.3L1471.18 624.3L1531.3 624.3L1531.3 644.8L1525.68 648.12L1531.3 651.06L1531.3 683.4L1531.3 743.21L1531.3 803.02L1531.3 863.07L1531.3 921.93L1531.3 979.83L1531.3 1098.74L1471.18 1107.8L1411.06 1100.89L1350.94 1105.89L1290.82 1107.8L1230.7 1103.27L1170.58 1105.89L1050.34 1100.89L990.22 1105.89L930.1 1100.89L930.1 981.98L930.1 924.31L930.1 863.07L930.1 803.02L930.1 743.21L930.1 683.4L930.1 650.51Z" fill="#4432cb" stroke="#4432cb" stroke-width="1.6" stroke-linejoin="round" fill-rule="evenodd"/>
<path d="M930.1 624.3L990.22 624.3L1050.34 624.3L1170.58 624.3L1230.7 624.3L1290.82 624.3L1350.94 624.3L1411.06 624.3L1471.18 624.3L1531.3 624.3L1531.3 641.96L1520.06 648.59L1531.3 654.46L1531.3 683.4L1531.3 743.21L1531.3 803.02L1531.3 863.07L1531.3 921.93L1531.3 979.83L1531.3 1098.74L1471.18 1107.8L1411.06 1100.89L1350.94 1105.89L1290.82 1107.8L1230.7 1103.27L1170.58 1105.89L1050.34 1100.89L990.22 1105.89L930.1 1100.89L930.1 981.98L930.1 924.31L930.1 863.07L930.1 803.02L930.1 743.21L930.1 683.4L930.1 650.51Z" fill="#4741e5" stroke="#4741e5" stroke-width="1.6" stroke-linejoin="round" fill-rule="evenodd"/>
<path d="M930.1 624.3L990.22 624.3L1050.34 624.3L1170.58 624.3L1230.7 624.3L1290.82 624.3L1350.94 624.3L1411.06 624.3L1471.18 624.3L1531.3 624.3L1531.3 639.11L1514.44 649.06L1531.3 657.87L1531.3 683.4L1531.3 743.21L1531.3 803.02L1531.3 863.07L1531.3 921.93L1531.3 979.83L1531.3 1098.74L1471.18 1107.8L1411.06 1100.89L1350.94 1105.89L1290.82 1107.8L1230.7 1103.27L1170.58 1105.89L1050.34 1100.89L990.22 1105.89L930.1 1100.89L930.1 981.98L930.1 924.31L930.1 863.07L930.1 803.02L930.1 743.21L930.1 683.4L930.1 650.51Z" fill="#4852f4" stroke="#4852f4" stroke-width="1.6" stroke-linejoin="round" fill-rule="evenodd"/>
<path d="M930.1 624.3L990.22 624.3L1050.34 624.3L1170.58 624.3L1230.7 624.3L1290.82 624.3L1350.94 624.3L1411.06 624.3L1471.18 624.3L1531.3 624.3L1531.3 636.26L1508.83 649.52L1531.3 661.27L1531.3 683.4L1531.3 743.21L1531.3 803.02L1531.3 863.07L1531.3 921.93L1531.3 979.83L1531.3 1098.74L1471.18 1107.8L1411.06 1100.89L1350.94 1105.89L1290.82 1107.8L1230.7 1103.27L1170.58 1105.89L1050.34 1100.89L990.22 1105.89L930.1 1100.89L930.1 981.98L930.1 924.31L930.1 863.07L930.1 803.02L930.1 743.21L930.1 683.4L930.1 650.51Z" fill="#4563fd" stroke="#4563fd" stroke-width="1.6" stroke-linejoin="round" fill-rule="evenodd"/>
<path d="M930.1 624.3L990.22 624.3L1050.34 624.3L1170.58 624.3L1230.7 624.3L1290.82 624.3L1350.94 624.3L1411.06 624.3L1471.18 624.3L1531.3 624.3L1531.3 633.41L1503.21 649.99L1531.3 664.67L1531.3 683.4L1531.3 743.21L1531.3 803.02L1531.3 863.07L1531.3 921.93L1531.3 979.83L1531.3 1098.74L1471.18 1107.8L1411.06 1100.89L1350.94 1105.89L1290.82 1107.8L1230.7 1103.27L1170.58 1105.89L1050.34 1100.89L990.22 1105.89L930.1 1100.89L930.1 981.98L930.1 924.31L930.1 863.07L930.1 803.02L930.1 743.21L930.1 683.4L930.1 650.51Z" fill="#327cfc" stroke="#327cfc" stroke-width="1.6" stroke-linejoin="round" fill-rule="evenodd"/>
<path d="M930.1 624.3L990.22 624.3L1050.34 624.3L1170.58 624.3L1230.7 624.3L1290.82 624.3L1350.94 624.3L1411.06 624.3L1471.18 624.3L1531.3 624.3L1531.3 630.57L1497.59 650.46L1531.3 668.08L1531.3 683.4L1531.3 743.21L1531.3 803.02L1531.3 863.07L1531.3 921.93L1531.3 979.83L1531.3 1098.74L1471.18 1107.8L1411.06 1100.89L1350.94 1105.89L1290.82 1107.8L1230.7 1103.27L1170.58 1105.89L1050.34 1100.89L990.22 1105.89L930.1 1100.89L930.1 981.98L930.1 924.31L930.1 863.07L930.1 803.02L930.1 743.21L930.1 683.4L930.1 650.51ZM1170.58 630.45L1133.58 653.65L1144.28 685.63L1170.58 716.06L1177.96 685.9L1182.6 654.13Z" fill="#2d8cf3" stroke="#2d8cf3" stroke-width="1.6" stroke-linejoin="round" fill-rule="evenodd"/>
<path d="M930.1 624.3L990.22 624.3L1050.34 624.3L1117.14 624.3L1087.34 651.91L1106.7 684.74L1050.34 739.47L1048.84 743.27L1050.34 745.5L1170.58 809.69L1172.94 749.85L1188.51 685.4L1197.63 653L1186.09 624.3L1230.7 624.3L1290.82 624.3L1350.94 624.3L1411.06 624.3L1471.18 624.3L1531.3 624.3L1531.3 627.72L1491.97 650.93L1531.3 671.48L1531.3 683.4L1531.3 743.21L1531.3 803.02L1531.3 863.07L1531.3 921.93L1531.3 979.83L1531.3 1098.74L1471.18 1107.8L1411.06 1100.89L1350.94 1105.89L1290.82 1107.8L1230.7 1103.27L1170.58 1105.89L1050.34 1100.89L990.22 1105.89L930.1 1100.89L930.1 981.98L930.1 924.31L930.1 863.07L930.1 803.02L930.1 743.21L930.1 683.4L930.1 650.51Z" fill="#259be8" stroke="#259be8" stroke-width="1.6" stroke-linejoin="round" fill-rule="evenodd"/>
<path d="M930.1 624.3L990.22 624.3L1050.34 624.3L1050.34 624.3L1050.34 624.3L1044.87 650.73L1050.34 659.91L1069.13 683.84L1050.34 702.09L1033.81 743.93L1050.34 768.44L1118.3 804.72L1170.58 836.38L1186 807.98L1184.73 748.49L1199.06 684.9L1212.66 651.87L1205.49 624.3L1230.7 624.3L1290.82 624.3L1350.94 624.3L1411.06 624.3L1471.18 624.3L1531.3 624.3L1531.3 624.87L1486.35 651.39L1531.3 674.89L1531.3 683.4L1531.3 743.21L1531.3 803.02L1531.3 863.07L1531.3 921.93L1531.3 979.83L1531.3 1098.74L1471.18 1107.8L1411.06 1100.89L1350.94 1105.89L1290.82 1107.8L1230.7 1103.27L1170.58 1105.89L1050.34 1100.89L990.22 1105.89L930.1 1100.89L930.1 981.98L930.1 924.31L930.1 863.07L930.1 803.02L930.1 743.21L930.1 683.4L930.1 650.51Z" fill="#1ca9df" stroke="#1ca9df" stroke-width="1.6" stroke-linejoin="round" fill-rule="evenodd"/>
<path d="M930.1 624.3L990.22 624.3L1020.28 624.3L1017.55 651.81L1030.3 684.35L1018.78 744.58L1050.34 791.37L1066.02 799.75L1050.34 821.58L1020.28 862.59L1050.34 892.38L1170.58 863.07L1170.58 863.07L1201.41 806.27L1196.51 747.14L1209.61 684.4L1227.69 650.74L1224.88 624.3L1230.7 624.3L1290.82 624.3L1350.94 624.3L1411.06 624.3L1428.24 624.3L1471.18 630.74L1480.73 651.86L1531.3 678.29L1531.3 683.4L1531.3 743.21L1531.3 803.02L1531.3 863.07L1531.3 921.93L1531.3 979.83L1531.3 1098.74L1471.18 1107.8L1411.06 1100.89L1350.94 1105.89L1290.82 1107.8L1230.7 1103.27L1170.58 1105.89L1050.34 1100.89L990.22 1105.89L930.1 1100.89L930.1 981.98L930.1 924.31L930.1 863.07L930.1 803.02L930.1 743.21L930.1 683.4L930.1 650.51ZM1170.58 970.96L1165.96 986.33L1170.58 987.76L1171.31 986.45ZM1350.94 693.88L1336.89 746.47L1350.94 773.8L1369.6 746.24ZM1411.06 671.19L1357.62 687.92L1411.06 703.79L1431.97 686.02Z" fill="#08b5d0" stroke="#08b5d0" stroke-width="1.6" stroke-linejoin="round" fill-rule="evenodd"/>
<path d="M930.1 624.3L990.22 624.3L990.22 624.3L990.22 652.9L990.22 686.26L1003.75 745.24L990.22 778.13L958.39 744.44L930.1 703.33L930.1 683.4L930.1 650.51ZM1290.82 624.3L1290.82 624.3L1350.94 624.3L1350.94 624.3L1411.06 652.66L1471.18 643.63L1475.11 652.33L1531.3 681.69L1531.3 683.4L1531.3 706.4L1507.25 745.21L1531.3 757.71L1531.3 803.02L1531.3 863.07L1531.3 921.93L1531.3 979.83L1531.3 1098.74L1471.18 1107.8L1411.06 1100.89L1350.94 1105.89L1290.82 1107.8L1230.7 1103.27L1170.58 1105.89L1050.34 1100.89L990.22 1105.89L930.1 1100.89L930.1 981.98L930.1 924.31L930.1 863.07L930.1 863.07L930.1 863.07L990.22 892.26L1020.28 922.05L1050.34 938.73L1119.71 984.59L1170.58 1000.33L1178.64 985.9L1179.53 923.96L1183.1 863.07L1216.83 804.56L1208.3 745.78L1220.15 683.9L1230.7 665.13L1290.82 650.51ZM1350.94 665.34L1322.46 687.15L1321.27 747.7L1350.94 805.4L1390.33 747.23L1411.06 726L1458.11 686.02L1411.06 652.66Z" fill="#19bfb6" stroke="#19bfb6" stroke-width="1.6" stroke-linejoin="round" fill-rule="evenodd"/>
<path d="M930.1 624.3L960.16 624.3L930.1 648.13ZM1230.7 683.4L1230.7 683.4L1290.82 686.02L1290.82 686.02L1305.65 748.94L1290.82 804.68L1230.7 797.04L1220.09 744.43ZM1411.06 748.21L1411.06 748.21L1471.18 730.44L1477.19 747.71L1531.3 775.83L1531.3 803.02L1531.3 863.07L1531.3 921.93L1531.3 979.83L1531.3 1098.74L1471.18 1107.8L1411.06 1100.89L1350.94 1105.89L1290.82 1107.8L1230.7 1103.27L1170.58 1105.89L1050.34 1100.89L990.22 1105.89L930.1 1100.89L930.1 981.98L930.1 981.98L930.1 981.98L990.22 991.44L1030.3 981.98L1050.34 967.56L1073.46 982.85L1170.58 1012.9L1185.98 985.35L1192.33 923.45L1195.63 863.07L1230.7 805.09L1290.82 808.9L1350.94 864.41L1381 804.21Z" fill="#31c69f" stroke="#31c69f" stroke-width="1.6" stroke-linejoin="round" fill-rule="evenodd"/>
<path d="M930.1 624.3L930.1 624.3L930.1 624.3ZM1411.06 803.02L1411.06 803.02L1411.06 803.02L1433.33 862.3L1471.18 878.45L1486.43 864.85L1493.72 804.51L1531.3 793.96L1531.3 803.02L1531.3 863.07L1531.3 921.93L1531.3 979.83L1531.3 1098.74L1471.18 1107.8L1411.06 1100.89L1350.94 1105.89L1290.82 1107.8L1230.7 1103.27L1170.58 1105.89L1050.34 1100.89L990.22 1105.89L930.1 1100.89L930.1 990.53L990.22 1000.9L1050.34 985.86L1170.58 1025.46L1193.31 984.79L1205.12 922.94L1208.15 863.07L1230.7 825.8L1290.82 835.99L1321.65 865.27L1350.94 895.1L1390.33 862.83Z" fill="#4acb84" stroke="#4acb84" stroke-width="1.6" stroke-linejoin="round" fill-rule="evenodd"/>
<path d="M1220.68 863.07L1230.7 846.5L1290.82 863.07L1290.82 863.07L1350.94 924.31L1411.06 879.91L1471.18 893.73L1504.38 864.14L1531.3 818.03L1531.3 863.07L1531.3 921.93L1531.3 979.83L1531.3 1098.74L1471.18 1107.8L1411.06 1100.89L1350.94 1105.89L1290.82 1107.8L1230.7 1103.27L1170.58 1105.89L1050.34 1100.89L990.22 1105.89L930.1 1100.89L930.1 999.09L990.22 1010.35L1050.34 993.63L1170.58 1038.03L1200.64 984.24L1217.91 922.43Z" fill="#72cd64" stroke="#72cd64" stroke-width="1.6" stroke-linejoin="round" fill-rule="evenodd"/>
<path d="M1522.33 863.42L1531.3 848.06L1531.3 863.07L1531.3 921.93L1531.3 979.83L1531.3 1098.74L1471.18 1107.8L1411.06 1100.89L1350.94 1105.89L1290.82 1107.8L1230.7 1103.27L1170.58 1105.89L1050.34 1100.89L990.22 1105.89L930.1 1100.89L930.1 1007.64L990.22 1019.81L1050.34 1001.41L1170.58 1050.6L1207.97 983.69L1230.7 921.93L1230.7 921.93L1290.82 922.4L1290.82 922.4L1350.94 952.8L1411.06 918.83L1411.06 918.83L1471.18 909.02Z" fill="#9dc943" stroke="#9dc943" stroke-width="1.6" stroke-linejoin="round" fill-rule="evenodd"/>
<path d="M1471.18 924.31L1471.18 924.31L1531.3 871.48L1531.3 921.93L1531.3 979.83L1531.3 1098.74L1471.18 1107.8L1411.06 1100.89L1350.94 1105.89L1290.82 1107.8L1230.7 1103.27L1170.58 1105.89L1050.34 1100.89L990.22 1105.89L930.1 1100.89L930.1 1016.2L990.22 1029.27L1050.34 1009.18L1170.58 1063.16L1215.3 983.14L1230.7 941.3L1290.82 941.62L1350.94 981.28L1411.06 929.67Z" fill="#d1bf27" stroke="#d1bf27" stroke-width="1.6" stroke-linejoin="round" fill-rule="evenodd"/>
<path d="M1491.22 923.52L1531.3 888.29L1531.3 921.93L1531.3 979.83L1531.3 1098.74L1471.18 1107.8L1411.06 1100.89L1350.94 1105.89L1290.82 1107.8L1230.7 1103.27L1170.58 1105.89L1050.34 1100.89L990.22 1105.89L930.1 1100.89L930.1 1024.75L990.22 1038.73L1050.34 1016.95L1170.58 1075.73L1222.64 982.58L1230.7 960.67L1290.82 960.84L1325.63 984.87L1350.94 1002.84L1360.96 986.47L1411.06 940.51L1471.18 953.93Z" fill="#f0ba36" stroke="#f0ba36" stroke-width="1.6" stroke-linejoin="round" fill-rule="evenodd"/>
<path d="M1511.26 922.72L1531.3 905.11L1531.3 921.93L1531.3 979.83L1531.3 1098.74L1471.18 1107.8L1411.06 1100.89L1350.94 1105.89L1290.82 1107.8L1230.7 1103.27L1170.58 1105.89L1050.34 1100.89L990.22 1105.89L930.1 1100.89L930.1 1033.3L990.22 1048.19L1050.34 1024.72L1170.58 1088.3L1229.97 982.03L1230.7 980.04L1290.82 980.06L1293.98 982.24L1350.94 1022.65L1373.48 985.82L1411.06 951.36L1471.18 983.54Z" fill="#fec338" stroke="#fec338" stroke-width="1.6" stroke-linejoin="round" fill-rule="evenodd"/>
<path d="M1531.3 921.93L1531.3 921.93L1531.3 921.93L1531.3 979.83L1531.3 1098.74L1471.18 1107.8L1411.06 1100.89L1350.94 1105.89L1290.82 1107.8L1230.7 1103.27L1170.58 1105.89L1050.34 1100.89L990.22 1105.89L930.1 1100.89L930.1 1041.86L990.22 1057.65L1050.34 1032.49L1170.58 1100.86L1230.7 990.78L1290.82 991.11L1350.94 1042.47L1386.01 985.17L1411.06 962.2L1452.52 985.69L1471.18 991.99L1485.8 984.88Z" fill="#fad62d" stroke="#fad62d" stroke-width="1.6" stroke-linejoin="round" fill-rule="evenodd"/>
<path d="M1398.53 984.53L1411.06 973.04L1431.79 984.79L1471.18 998.09L1502.05 983.08L1531.3 942.61L1531.3 979.83L1531.3 1098.74L1471.18 1107.8L1411.06 1100.89L1350.94 1105.89L1290.82 1107.8L1230.7 1103.27L1173.83 1105.75L1230.7 1000.56L1290.82 1001.26L1350.94 1062.29ZM930.1 1100.89L930.1 1050.41L990.22 1067.11L1050.34 1040.27L1161.99 1105.53L1050.34 1100.89L990.22 1105.89Z" fill="#f5e924" stroke="#f5e924" stroke-width="1.6" stroke-linejoin="round" fill-rule="evenodd"/>
<path d="M1411.06 983.88L1411.06 983.88L1411.06 983.88L1471.18 1004.18L1518.3 981.28L1531.3 963.29L1531.3 979.83L1531.3 1098.74L1471.18 1107.8L1411.06 1100.89L1350.94 1105.89L1290.82 1107.8L1230.7 1103.27L1179.25 1105.51L1230.7 1010.34L1290.82 1011.4L1350.94 1082.11ZM930.1 1100.89L930.1 1058.97L990.22 1076.57L1050.34 1048.04L1147.68 1104.94L1050.34 1100.89L990.22 1105.89Z" fill="#f9fb15" stroke="#f9fb15" stroke-width="1.6" stroke-linejoin="round" fill-rule="evenodd"/>
</g></g>
<g fill="#808080"><circle cx="930.1" cy="624.3" r="5.2"/><circle cx="930.1" cy="650.51" r="5.2"/><circle cx="930.1" cy="683.4" r="5.2"/><circle cx="930.1" cy="743.21" r="5.2"/><circle cx="930.1" cy="803.02" r="5.2"/><circle cx="930.1" cy="863.07" r="5.2"/><circle cx="930.1" cy="924.31" r="5.2"/><circle cx="930.1" cy="981.98" r="5.2"/><circle cx="930.1" cy="1100.89" r="5.2"/><circle cx="990.22" cy="624.3" r="5.2"/><circle cx="990.22" cy="652.9" r="5.2"/><circle cx="990.22" cy="686.26" r="5.2"/><circle cx="990.22" cy="745.83" r="5.2"/><circle cx="990.22" cy="805.4" r="5.2"/><circle cx="990.22" cy="864.74" r="5.2"/><circle cx="990.22" cy="919.78" r="5.2"/><circle cx="990.22" cy="981.98" r="5.2"/><circle cx="990.22" cy="1105.89" r="5.2"/><circle cx="1050.34" cy="624.3" r="5.2"/><circle cx="1050.34" cy="650.51" r="5.2"/><circle cx="1050.34" cy="683.4" r="5.2"/><circle cx="1050.34" cy="743.21" r="5.2"/><circle cx="1050.34" cy="798.25" r="5.2"/><circle cx="1050.34" cy="860.45" r="5.2"/><circle cx="1050.34" cy="924.31" r="5.2"/><circle cx="1050.34" cy="981.98" r="5.2"/><circle cx="1050.34" cy="1100.89" r="5.2"/><circle cx="1170.58" cy="624.3" r="5.2"/><circle cx="1170.58" cy="655.04" r="5.2"/><circle cx="1170.58" cy="686.26" r="5.2"/><circle cx="1170.58" cy="750.12" r="5.2"/><circle cx="1170.58" cy="809.69" r="5.2"/><circle cx="1170.58" cy="863.07" r="5.2"/><circle cx="1170.58" cy="924.31" r="5.2"/><circle cx="1170.58" cy="986.5" r="5.2"/><circle cx="1170.58" cy="1105.89" r="5.2"/><circle cx="1230.7" cy="624.3" r="5.2"/><circle cx="1230.7" cy="650.51" r="5.2"/><circle cx="1230.7" cy="683.4" r="5.2"/><circle cx="1230.7" cy="743.21" r="5.2"/><circle cx="1230.7" cy="803.02" r="5.2"/><circle cx="1230.7" cy="863.07" r="5.2"/><circle cx="1230.7" cy="921.93" r="5.2"/><circle cx="1230.7" cy="981.98" r="5.2"/><circle cx="1230.7" cy="1103.27" r="5.2"/><circle cx="1290.82" cy="624.3" r="5.2"/><circle cx="1290.82" cy="650.51" r="5.2"/><circle cx="1290.82" cy="686.02" r="5.2"/><circle cx="1290.82" cy="750.12" r="5.2"/><circle cx="1290.82" cy="807.55" r="5.2"/><circle cx="1290.82" cy="863.07" r="5.2"/><circle cx="1290.82" cy="922.4" r="5.2"/><circle cx="1290.82" cy="981.98" r="5.2"/><circle cx="1290.82" cy="1107.8" r="5.2"/><circle cx="1350.94" cy="624.3" r="5.2"/><circle cx="1350.94" cy="652.66" r="5.2"/><circle cx="1350.94" cy="688.16" r="5.2"/><circle cx="1350.94" cy="745.35" r="5.2"/><circle cx="1350.94" cy="805.4" r="5.2"/><circle cx="1350.94" cy="867.36" r="5.2"/><circle cx="1350.94" cy="924.31" r="5.2"/><circle cx="1350.94" cy="986.98" r="5.2"/><circle cx="1350.94" cy="1105.89" r="5.2"/><circle cx="1411.06" cy="624.3" r="5.2"/><circle cx="1411.06" cy="652.66" r="5.2"/><circle cx="1411.06" cy="686.02" r="5.2"/><circle cx="1411.06" cy="748.21" r="5.2"/><circle cx="1411.06" cy="803.02" r="5.2"/><circle cx="1411.06" cy="860.45" r="5.2"/><circle cx="1411.06" cy="918.83" r="5.2"/><circle cx="1411.06" cy="983.88" r="5.2"/><circle cx="1411.06" cy="1100.89" r="5.2"/><circle cx="1471.18" cy="624.3" r="5.2"/><circle cx="1471.18" cy="652.66" r="5.2"/><circle cx="1471.18" cy="686.02" r="5.2"/><circle cx="1471.18" cy="748.21" r="5.2"/><circle cx="1471.18" cy="805.4" r="5.2"/><circle cx="1471.18" cy="865.45" r="5.2"/><circle cx="1471.18" cy="924.31" r="5.2"/><circle cx="1471.18" cy="986.5" r="5.2"/><circle cx="1471.18" cy="1107.8" r="5.2"/><circle cx="1531.3" cy="624.3" r="5.2"/><circle cx="1531.3" cy="647.65" r="5.2"/><circle cx="1531.3" cy="683.4" r="5.2"/><circle cx="1531.3" cy="743.21" r="5.2"/><circle cx="1531.3" cy="803.02" r="5.2"/><circle cx="1531.3" cy="863.07" r="5.2"/><circle cx="1531.3" cy="921.93" r="5.2"/><circle cx="1531.3" cy="979.83" r="5.2"/><circle cx="1531.3" cy="1098.74" r="5.2"/></g>
<mask id="mkd" maskUnits="userSpaceOnUse" x="0" y="0" width="1640" height="1191"><rect width="1640" height="1191" fill="#fff"/><rect x="-23.46" y="-11" width="46.92" height="22" fill="#000" transform="translate(1250 771.5) rotate(15)"/><rect x="-23.46" y="-11" width="46.92" height="22" fill="#000" transform="translate(1291.25 830.25) rotate(35)"/><rect x="-23.46" y="-11" width="46.92" height="22" fill="#000" transform="translate(1462.5 777.75) rotate(2)"/><rect x="-23.46" y="-11" width="46.92" height="22" fill="#000" transform="translate(1185 991.5) rotate(-75)"/></mask>
<g clip-path="url(#clipd)"><g mask="url(#mkd)" fill="none" stroke="#000" stroke-width="5.0" stroke-linejoin="round" stroke-linecap="butt">
<path d="M945.13 624.3L930.1 636.21"/>
<path d="M1225.98 743.75L1230.7 716.63L1290.82 719.76L1297.85 749.56L1290.82 775.96L1230.7 767.13L1225.98 743.75"/>
<path d="M1471.18 827.24L1455.59 864.15L1471.18 870.8L1477.46 865.2L1471.18 827.24"/>
<path d="M930.1 986.25L990.22 996.17L1050.34 981.98L1170.58 1019.18L1189.64 985.07L1198.72 923.2L1201.89 863.07L1230.7 815.44L1290.82 822.44L1337.07 866.37L1350.94 880.5L1369.6 865.21L1396.03 803.62L1411.06 775.62L1471.18 782.53L1531.3 784.89"/>
</g></g>
<text transform="translate(1250 771.5) rotate(15)" y="7.16" text-anchor="middle" font-size="20" font-weight="bold" fill="#000">1.15</text><text transform="translate(1291.25 830.25) rotate(35)" y="7.16" text-anchor="middle" font-size="20" font-weight="bold" fill="#000">1.15</text><text transform="translate(1462.5 777.75) rotate(2)" y="7.16" text-anchor="middle" font-size="20" font-weight="bold" fill="#000">1.15</text><text transform="translate(1185 991.5) rotate(-75)" y="7.16" text-anchor="middle" font-size="20" font-weight="bold" fill="#000">1.15</text>
<mask id="mmd" maskUnits="userSpaceOnUse" x="0" y="0" width="1640" height="1191"><rect width="1640" height="1191" fill="#fff"/><rect x="-23.46" y="-11" width="46.92" height="22" fill="#000" transform="translate(946.25 736.5) rotate(-85)"/><rect x="-23.46" y="-11" width="46.92" height="22" fill="#000" transform="translate(971.25 902.75) rotate(65)"/><rect x="-23.46" y="-11" width="46.92" height="22" fill="#000" transform="translate(1130 949) rotate(55)"/><rect x="-23.46" y="-11" width="46.92" height="22" fill="#000" transform="translate(1247.5 845.25) rotate(5)"/><rect x="-23.46" y="-11" width="46.92" height="22" fill="#000" transform="translate(1406.25 692.75) rotate(-85)"/><rect x="-23.46" y="-11" width="46.92" height="22" fill="#000" transform="translate(1487.5 719) rotate(-70)"/></mask>
<g clip-path="url(#clipd)"><g mask="url(#mmd)" fill="none" stroke="#ff00ff" stroke-width="5.0" stroke-linejoin="round" stroke-linecap="butt">
<path d="M948.75 636.5L946.25 649L945.5 707.75L946.25 736.5L937.5 769L930 792.75L930 806.5L958.75 861.5L962.5 872.75L971.25 902.75L980.5 931.5L988.75 966.5L1050.25 978.5L1110 916.5L1117.5 920.25L1130 949L1145 976.5L1150 981.5L1170.5 994L1176.25 981.5L1176.25 922.75L1206.25 862.75L1221.25 845.25L1247.5 845.25L1275 850.25L1290.75 856.5L1360 802.75L1396.25 742.75L1400 724L1406.25 692.75L1407.5 662.75L1407.5 636.5L1415 636.5L1416.25 646.5L1413.75 684L1446.25 742.75L1471 759L1476.25 749L1487.5 719L1496.25 690.25L1498.75 682.75L1531 665.25"/>
</g></g>
<text transform="translate(946.25 736.5) rotate(-85)" y="7.16" text-anchor="middle" font-size="20" font-weight="bold" fill="#ff00ff">1.15</text><text transform="translate(971.25 902.75) rotate(65)" y="7.16" text-anchor="middle" font-size="20" font-weight="bold" fill="#ff00ff">1.15</text><text transform="translate(1130 949) rotate(55)" y="7.16" text-anchor="middle" font-size="20" font-weight="bold" fill="#ff00ff">1.15</text><text transform="translate(1247.5 845.25) rotate(5)" y="7.16" text-anchor="middle" font-size="20" font-weight="bold" fill="#ff00ff">1.15</text><text transform="translate(1406.25 692.75) rotate(-85)" y="7.16" text-anchor="middle" font-size="20" font-weight="bold" fill="#ff00ff">1.15</text><text transform="translate(1487.5 719) rotate(-70)" y="7.16" text-anchor="middle" font-size="20" font-weight="bold" fill="#ff00ff">1.15</text>
<rect x="984.8" y="653.1" width="36.6" height="36.8" fill="#fff"/>
<text x="1003.1" y="680.2" text-anchor="middle" font-size="22" fill="#000">(d)</text>
<g stroke="#262626" stroke-width="1" fill="none"><rect x="930.1" y="624.3" width="601.2" height="488.5" fill="none"/><path d="M930.1 1112.8v6M930.1 624.3v-6"/><path d="M990.22 1112.8v6M990.22 624.3v-6"/><path d="M1050.34 1112.8v6M1050.34 624.3v-6"/><path d="M1110.46 1112.8v6M1110.46 624.3v-6"/><path d="M1170.58 1112.8v6M1170.58 624.3v-6"/><path d="M1230.7 1112.8v6M1230.7 624.3v-6"/><path d="M1290.82 1112.8v6M1290.82 624.3v-6"/><path d="M1350.94 1112.8v6M1350.94 624.3v-6"/><path d="M1411.06 1112.8v6M1411.06 624.3v-6"/><path d="M1471.18 1112.8v6M1471.18 624.3v-6"/><path d="M1531.3 1112.8v6M1531.3 624.3v-6"/><path d="M930.1 624.3h-6M1531.3 624.3h6"/><path d="M930.1 671.96h-6M1531.3 671.96h6"/><path d="M930.1 719.62h-6M1531.3 719.62h6"/><path d="M930.1 767.28h-6M1531.3 767.28h6"/><path d="M930.1 814.93h-6M1531.3 814.93h6"/><path d="M930.1 862.59h-6M1531.3 862.59h6"/><path d="M930.1 910.25h-6M1531.3 910.25h6"/><path d="M930.1 957.91h-6M1531.3 957.91h6"/><path d="M930.1 1005.57h-6M1531.3 1005.57h6"/><path d="M930.1 1053.23h-6M1531.3 1053.23h6"/><path d="M930.1 1100.89h-6M1531.3 1100.89h6"/></g>
<g font-size="21.3" fill="#262626"><text x="930.1" y="1148.1" text-anchor="middle">15</text><text x="990.22" y="1148.1" text-anchor="middle">16</text><text x="1050.34" y="1148.1" text-anchor="middle">17</text><text x="1110.46" y="1148.1" text-anchor="middle">18</text><text x="1170.58" y="1148.1" text-anchor="middle">19</text><text x="1230.7" y="1148.1" text-anchor="middle">20</text><text x="1290.82" y="1148.1" text-anchor="middle">21</text><text x="1350.94" y="1148.1" text-anchor="middle">22</text><text x="1411.06" y="1148.1" text-anchor="middle">23</text><text x="1471.18" y="1148.1" text-anchor="middle">24</text><text x="1531.3" y="1148.1" text-anchor="middle">25</text><text x="916.2" y="633" text-anchor="end">0</text><text x="916.2" y="680.66" text-anchor="end">20</text><text x="916.2" y="728.32" text-anchor="end">40</text><text x="916.2" y="775.98" text-anchor="end">60</text><text x="916.2" y="823.63" text-anchor="end">80</text><text x="916.2" y="871.29" text-anchor="end">100</text><text x="916.2" y="918.95" text-anchor="end">120</text><text x="916.2" y="966.61" text-anchor="end">140</text><text x="916.2" y="1014.27" text-anchor="end">160</text><text x="916.2" y="1061.93" text-anchor="end">180</text><text x="916.2" y="1109.59" text-anchor="end">200</text></g>
<text x="1230.7" y="1185" text-anchor="middle" font-size="23.4" fill="#262626">Latitude (<tspan font-size="16.4" dy="-12.5">o</tspan><tspan dy="12.5">N)</tspan></text>
<g shape-rendering="crispEdges"><rect x="1560" y="1104.97" width="35.7" height="8.03" fill="#3e26a8"/><rect x="1560" y="1097.33" width="35.7" height="8.03" fill="#402ab4"/><rect x="1560" y="1089.7" width="35.7" height="8.03" fill="#422ec0"/><rect x="1560" y="1082.07" width="35.7" height="8.03" fill="#4432cb"/><rect x="1560" y="1074.44" width="35.7" height="8.03" fill="#4537d5"/><rect x="1560" y="1066.8" width="35.7" height="8.03" fill="#463cde"/><rect x="1560" y="1059.17" width="35.7" height="8.03" fill="#4741e5"/><rect x="1560" y="1051.54" width="35.7" height="8.03" fill="#4747eb"/><rect x="1560" y="1043.9" width="35.7" height="8.03" fill="#484df0"/><rect x="1560" y="1036.27" width="35.7" height="8.03" fill="#4852f4"/><rect x="1560" y="1028.64" width="35.7" height="8.03" fill="#4758f8"/><rect x="1560" y="1021.01" width="35.7" height="8.03" fill="#465efb"/><rect x="1560" y="1013.37" width="35.7" height="8.03" fill="#4563fd"/><rect x="1560" y="1005.74" width="35.7" height="8.03" fill="#4269fe"/><rect x="1560" y="998.11" width="35.7" height="8.03" fill="#3e6fff"/><rect x="1560" y="990.47" width="35.7" height="8.03" fill="#3875fe"/><rect x="1560" y="982.84" width="35.7" height="8.03" fill="#327cfc"/><rect x="1560" y="975.21" width="35.7" height="8.03" fill="#2f81fa"/><rect x="1560" y="967.58" width="35.7" height="8.03" fill="#2e87f7"/><rect x="1560" y="959.94" width="35.7" height="8.03" fill="#2d8cf3"/><rect x="1560" y="952.31" width="35.7" height="8.03" fill="#2b91ef"/><rect x="1560" y="944.68" width="35.7" height="8.03" fill="#2797eb"/><rect x="1560" y="937.05" width="35.7" height="8.03" fill="#259be8"/><rect x="1560" y="929.41" width="35.7" height="8.03" fill="#23a0e5"/><rect x="1560" y="921.78" width="35.7" height="8.03" fill="#20a5e3"/><rect x="1560" y="914.15" width="35.7" height="8.03" fill="#1ca9df"/><rect x="1560" y="906.51" width="35.7" height="8.03" fill="#18addb"/><rect x="1560" y="898.88" width="35.7" height="8.03" fill="#12b1d6"/><rect x="1560" y="891.25" width="35.7" height="8.03" fill="#08b5d0"/><rect x="1560" y="883.62" width="35.7" height="8.03" fill="#01b8ca"/><rect x="1560" y="875.98" width="35.7" height="8.03" fill="#02bac3"/><rect x="1560" y="868.35" width="35.7" height="8.03" fill="#0bbdbd"/><rect x="1560" y="860.72" width="35.7" height="8.03" fill="#19bfb6"/><rect x="1560" y="853.08" width="35.7" height="8.03" fill="#24c1ae"/><rect x="1560" y="845.45" width="35.7" height="8.03" fill="#2cc4a7"/><rect x="1560" y="837.82" width="35.7" height="8.03" fill="#31c69f"/><rect x="1560" y="830.19" width="35.7" height="8.03" fill="#37c897"/><rect x="1560" y="822.55" width="35.7" height="8.03" fill="#3fca8e"/><rect x="1560" y="814.92" width="35.7" height="8.03" fill="#4acb84"/><rect x="1560" y="807.29" width="35.7" height="8.03" fill="#57cc7a"/><rect x="1560" y="799.65" width="35.7" height="8.03" fill="#64cd6f"/><rect x="1560" y="792.02" width="35.7" height="8.03" fill="#72cd64"/><rect x="1560" y="784.39" width="35.7" height="8.03" fill="#81cc59"/><rect x="1560" y="776.76" width="35.7" height="8.03" fill="#8fcb4e"/><rect x="1560" y="769.12" width="35.7" height="8.03" fill="#9dc943"/><rect x="1560" y="761.49" width="35.7" height="8.03" fill="#abc739"/><rect x="1560" y="753.86" width="35.7" height="8.03" fill="#b9c431"/><rect x="1560" y="746.22" width="35.7" height="8.03" fill="#c5c22a"/><rect x="1560" y="738.59" width="35.7" height="8.03" fill="#d1bf27"/><rect x="1560" y="730.96" width="35.7" height="8.03" fill="#dcbd29"/><rect x="1560" y="723.33" width="35.7" height="8.03" fill="#e6bb2d"/><rect x="1560" y="715.69" width="35.7" height="8.03" fill="#f0ba36"/><rect x="1560" y="708.06" width="35.7" height="8.03" fill="#f8ba3d"/><rect x="1560" y="700.43" width="35.7" height="8.03" fill="#febe3c"/><rect x="1560" y="692.8" width="35.7" height="8.03" fill="#fec338"/><rect x="1560" y="685.16" width="35.7" height="8.03" fill="#fec934"/><rect x="1560" y="677.53" width="35.7" height="8.03" fill="#fccf30"/><rect x="1560" y="669.9" width="35.7" height="8.03" fill="#fad62d"/><rect x="1560" y="662.26" width="35.7" height="8.03" fill="#f7dc2a"/><rect x="1560" y="654.63" width="35.7" height="8.03" fill="#f5e327"/><rect x="1560" y="647" width="35.7" height="8.03" fill="#f5e924"/><rect x="1560" y="639.37" width="35.7" height="8.03" fill="#f6ef20"/><rect x="1560" y="631.73" width="35.7" height="8.03" fill="#f7f51b"/><rect x="1560" y="624.1" width="35.7" height="8.03" fill="#f9fb15"/></g>
<g stroke="#262626" stroke-width="1" fill="none"><rect x="1560" y="624.3" width="35.7" height="488.5" fill="none"/><path d="M1595.7 1063.95h-5"/><path d="M1595.7 1015.1h-5"/><path d="M1595.7 966.25h-5"/><path d="M1595.7 917.4h-5"/><path d="M1595.7 868.55h-5"/><path d="M1595.7 819.7h-5"/><path d="M1595.7 770.85h-5"/><path d="M1595.7 722h-5"/><path d="M1595.7 673.15h-5"/></g>
<g font-size="19.2" fill="#262626"><text x="1603.2" y="1120.2">0</text><text x="1603.2" y="1071.35">0.2</text><text x="1603.2" y="1022.5">0.4</text><text x="1603.2" y="973.65">0.6</text><text x="1603.2" y="924.8">0.8</text><text x="1603.2" y="875.95">1</text><text x="1603.2" y="827.1">1.2</text><text x="1603.2" y="778.25">1.4</text><text x="1603.2" y="729.4">1.6</text><text x="1603.2" y="680.55">1.8</text><text x="1603.2" y="631.7">2</text></g>
<text x="1562.6" y="608.4" font-size="21.3" fill="#262626"><tspan font-style="italic">μ</tspan>mol/kg</text>
</g>
</svg>
</body></html>
